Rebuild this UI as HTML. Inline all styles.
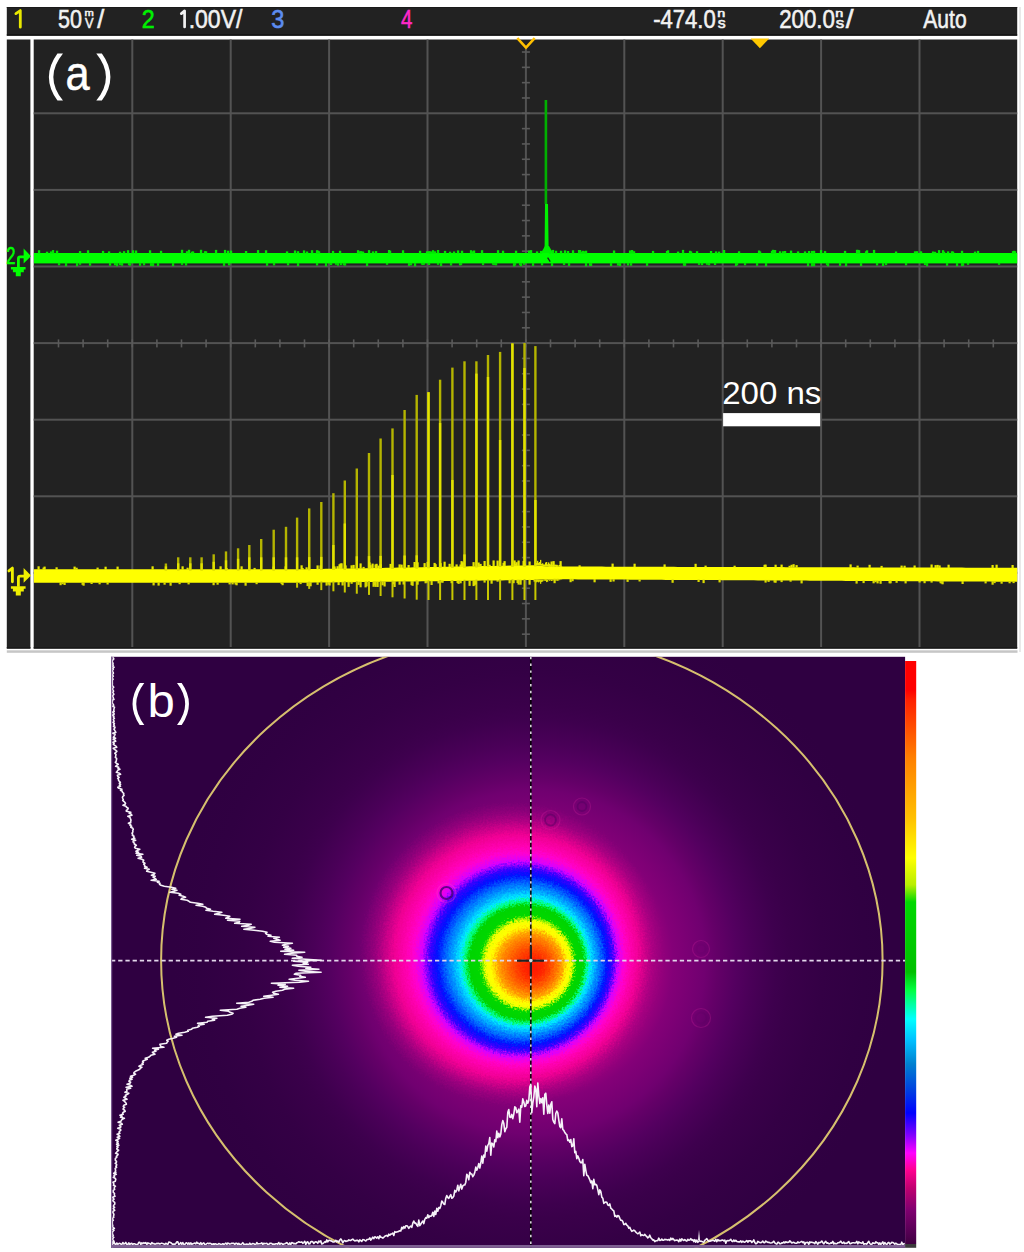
<!DOCTYPE html>
<html><head><meta charset="utf-8"><style>
html,body{margin:0;padding:0;background:#fff;}
body{width:1024px;height:1252px;overflow:hidden;}
svg{display:block;}
</style></head><body>
<svg width="1024" height="1252" viewBox="0 0 1024 1252">
<rect x="6.8" y="7" width="1010.4" height="28.7" fill="#222"/>
<rect x="6.8" y="34.2" width="1010.4" height="1.5" fill="#151515"/>
<rect x="6.8" y="7" width="1010.4" height="1" fill="#1a1a1a"/>
<rect x="6.8" y="39.5" width="23.6" height="609.1" fill="#222"/>
<rect x="33.7" y="39.5" width="983.5" height="609.1" fill="#222"/>
<rect x="33.7" y="647" width="983.5" height="1.6" fill="#1a1a1a"/>
<rect x="6.8" y="647" width="23.6" height="1.6" fill="#1a1a1a"/>
<rect x="6.8" y="650.3" width="1010.7" height="2.5" fill="#c6c6c6"/>
<rect x="1019.2" y="7" width="1.6" height="645" fill="#e4e4e4"/>
<rect x="131.30" y="39.5" width="2" height="607.5" fill="#535353"/><rect x="229.70" y="39.5" width="2" height="607.5" fill="#535353"/><rect x="328.10" y="39.5" width="2" height="607.5" fill="#535353"/><rect x="426.50" y="39.5" width="2" height="607.5" fill="#535353"/><rect x="524.90" y="48.5" width="2" height="598.5" fill="#535353"/><rect x="623.30" y="39.5" width="2" height="607.5" fill="#535353"/><rect x="721.70" y="39.5" width="2" height="607.5" fill="#535353"/><rect x="820.10" y="39.5" width="2" height="607.5" fill="#535353"/><rect x="918.50" y="39.5" width="2" height="607.5" fill="#535353"/><rect x="33.7" y="112.30" width="983.5" height="2" fill="#535353"/><rect x="33.7" y="188.90" width="983.5" height="2" fill="#535353"/><rect x="33.7" y="265.50" width="983.5" height="2" fill="#535353"/><rect x="33.7" y="342.10" width="983.5" height="2" fill="#535353"/><rect x="33.7" y="418.70" width="983.5" height="2" fill="#535353"/><rect x="33.7" y="495.30" width="983.5" height="2" fill="#535353"/><rect x="33.7" y="571.90" width="983.5" height="2" fill="#535353"/><rect x="521.90" y="51.22" width="8" height="1.6" fill="#5a5a5a"/><rect x="521.90" y="66.54" width="8" height="1.6" fill="#5a5a5a"/><rect x="521.90" y="81.86" width="8" height="1.6" fill="#5a5a5a"/><rect x="521.90" y="97.18" width="8" height="1.6" fill="#5a5a5a"/><rect x="521.90" y="112.50" width="8" height="1.6" fill="#5a5a5a"/><rect x="521.90" y="127.82" width="8" height="1.6" fill="#5a5a5a"/><rect x="521.90" y="143.14" width="8" height="1.6" fill="#5a5a5a"/><rect x="521.90" y="158.46" width="8" height="1.6" fill="#5a5a5a"/><rect x="521.90" y="173.78" width="8" height="1.6" fill="#5a5a5a"/><rect x="521.90" y="189.10" width="8" height="1.6" fill="#5a5a5a"/><rect x="521.90" y="204.42" width="8" height="1.6" fill="#5a5a5a"/><rect x="521.90" y="219.74" width="8" height="1.6" fill="#5a5a5a"/><rect x="521.90" y="235.06" width="8" height="1.6" fill="#5a5a5a"/><rect x="521.90" y="250.38" width="8" height="1.6" fill="#5a5a5a"/><rect x="521.90" y="265.70" width="8" height="1.6" fill="#5a5a5a"/><rect x="521.90" y="281.02" width="8" height="1.6" fill="#5a5a5a"/><rect x="521.90" y="296.34" width="8" height="1.6" fill="#5a5a5a"/><rect x="521.90" y="311.66" width="8" height="1.6" fill="#5a5a5a"/><rect x="521.90" y="326.98" width="8" height="1.6" fill="#5a5a5a"/><rect x="521.90" y="342.30" width="8" height="1.6" fill="#5a5a5a"/><rect x="521.90" y="357.62" width="8" height="1.6" fill="#5a5a5a"/><rect x="521.90" y="372.94" width="8" height="1.6" fill="#5a5a5a"/><rect x="521.90" y="388.26" width="8" height="1.6" fill="#5a5a5a"/><rect x="521.90" y="403.58" width="8" height="1.6" fill="#5a5a5a"/><rect x="521.90" y="418.90" width="8" height="1.6" fill="#5a5a5a"/><rect x="521.90" y="434.22" width="8" height="1.6" fill="#5a5a5a"/><rect x="521.90" y="449.54" width="8" height="1.6" fill="#5a5a5a"/><rect x="521.90" y="464.86" width="8" height="1.6" fill="#5a5a5a"/><rect x="521.90" y="480.18" width="8" height="1.6" fill="#5a5a5a"/><rect x="521.90" y="495.50" width="8" height="1.6" fill="#5a5a5a"/><rect x="521.90" y="510.82" width="8" height="1.6" fill="#5a5a5a"/><rect x="521.90" y="526.14" width="8" height="1.6" fill="#5a5a5a"/><rect x="521.90" y="541.46" width="8" height="1.6" fill="#5a5a5a"/><rect x="521.90" y="556.78" width="8" height="1.6" fill="#5a5a5a"/><rect x="521.90" y="572.10" width="8" height="1.6" fill="#5a5a5a"/><rect x="521.90" y="587.42" width="8" height="1.6" fill="#5a5a5a"/><rect x="521.90" y="602.74" width="8" height="1.6" fill="#5a5a5a"/><rect x="521.90" y="618.06" width="8" height="1.6" fill="#5a5a5a"/><rect x="521.90" y="633.38" width="8" height="1.6" fill="#5a5a5a"/><rect x="57.70" y="339.40" width="1.6" height="8" fill="#5a5a5a"/><rect x="82.30" y="339.40" width="1.6" height="8" fill="#5a5a5a"/><rect x="106.90" y="339.40" width="1.6" height="8" fill="#5a5a5a"/><rect x="131.50" y="339.40" width="1.6" height="8" fill="#5a5a5a"/><rect x="156.10" y="339.40" width="1.6" height="8" fill="#5a5a5a"/><rect x="180.70" y="339.40" width="1.6" height="8" fill="#5a5a5a"/><rect x="205.30" y="339.40" width="1.6" height="8" fill="#5a5a5a"/><rect x="229.90" y="339.40" width="1.6" height="8" fill="#5a5a5a"/><rect x="254.50" y="339.40" width="1.6" height="8" fill="#5a5a5a"/><rect x="279.10" y="339.40" width="1.6" height="8" fill="#5a5a5a"/><rect x="303.70" y="339.40" width="1.6" height="8" fill="#5a5a5a"/><rect x="328.30" y="339.40" width="1.6" height="8" fill="#5a5a5a"/><rect x="352.90" y="339.40" width="1.6" height="8" fill="#5a5a5a"/><rect x="377.50" y="339.40" width="1.6" height="8" fill="#5a5a5a"/><rect x="402.10" y="339.40" width="1.6" height="8" fill="#5a5a5a"/><rect x="426.70" y="339.40" width="1.6" height="8" fill="#5a5a5a"/><rect x="451.30" y="339.40" width="1.6" height="8" fill="#5a5a5a"/><rect x="475.90" y="339.40" width="1.6" height="8" fill="#5a5a5a"/><rect x="500.50" y="339.40" width="1.6" height="8" fill="#5a5a5a"/><rect x="525.10" y="339.40" width="1.6" height="8" fill="#5a5a5a"/><rect x="549.70" y="339.40" width="1.6" height="8" fill="#5a5a5a"/><rect x="574.30" y="339.40" width="1.6" height="8" fill="#5a5a5a"/><rect x="598.90" y="339.40" width="1.6" height="8" fill="#5a5a5a"/><rect x="623.50" y="339.40" width="1.6" height="8" fill="#5a5a5a"/><rect x="648.10" y="339.40" width="1.6" height="8" fill="#5a5a5a"/><rect x="672.70" y="339.40" width="1.6" height="8" fill="#5a5a5a"/><rect x="697.30" y="339.40" width="1.6" height="8" fill="#5a5a5a"/><rect x="721.90" y="339.40" width="1.6" height="8" fill="#5a5a5a"/><rect x="746.50" y="339.40" width="1.6" height="8" fill="#5a5a5a"/><rect x="771.10" y="339.40" width="1.6" height="8" fill="#5a5a5a"/><rect x="795.70" y="339.40" width="1.6" height="8" fill="#5a5a5a"/><rect x="820.30" y="339.40" width="1.6" height="8" fill="#5a5a5a"/><rect x="844.90" y="339.40" width="1.6" height="8" fill="#5a5a5a"/><rect x="869.50" y="339.40" width="1.6" height="8" fill="#5a5a5a"/><rect x="894.10" y="339.40" width="1.6" height="8" fill="#5a5a5a"/><rect x="918.70" y="339.40" width="1.6" height="8" fill="#5a5a5a"/><rect x="943.30" y="339.40" width="1.6" height="8" fill="#5a5a5a"/><rect x="967.90" y="339.40" width="1.6" height="8" fill="#5a5a5a"/><rect x="992.50" y="339.40" width="1.6" height="8" fill="#5a5a5a"/>
<path d="M15.9 13.6 L20.3 10.60 L20.3 27.20" fill="none" stroke="#e8e800" stroke-width="2.8" stroke-linecap="round" stroke-linejoin="round"/>
<text transform="translate(57.89,27.90) scale(0.8396,1)" x="0" y="0" font-family='"Liberation Sans", sans-serif' font-size="25.71" fill="#f2f2f2" style="font-kerning:none" stroke="#f2f2f2" stroke-width="0.55">50</text>
<text transform="translate(84.61,16.25) scale(1.1745,1)" x="0" y="0" font-family='"Liberation Sans", sans-serif' font-size="9.48" fill="#f2f2f2" style="font-kerning:none" stroke="#f2f2f2" stroke-width="0.55">m</text>
<text transform="translate(84.99,28.15) scale(0.8780,1)" x="0" y="0" font-family='"Liberation Sans", sans-serif' font-size="14.54" fill="#f2f2f2" style="font-kerning:none" stroke="#f2f2f2" stroke-width="0.55">V</text>
<text transform="translate(97.15,27.90) scale(0.9948,1)" x="0" y="0" font-family='"Liberation Sans", sans-serif' font-size="25.33" fill="#f2f2f2" style="font-kerning:none" stroke="#f2f2f2" stroke-width="0.55">/</text>
<text transform="translate(141.68,28.15) scale(0.8927,1)" x="0" y="0" font-family='"Liberation Sans", sans-serif' font-size="26.07" fill="#00f000" style="font-kerning:none" stroke="#00f000" stroke-width="0.55">2</text>
<path d="M181.3 13.6 L184.6 10.85 L184.6 26.95" fill="none" stroke="#f2f2f2" stroke-width="2.7" stroke-linecap="round" stroke-linejoin="round"/>
<text transform="translate(188.65,27.90) scale(0.9147,1)" x="0" y="0" font-family='"Liberation Sans", sans-serif' font-size="25.19" fill="#f2f2f2" style="font-kerning:none" stroke="#f2f2f2" stroke-width="0.55">.00V/</text>
<text transform="translate(271.35,27.90) scale(0.9190,1)" x="0" y="0" font-family='"Liberation Sans", sans-serif' font-size="25.71" fill="#5c8cf0" style="font-kerning:none" stroke="#5c8cf0" stroke-width="0.55">3</text>
<text transform="translate(400.88,28.15) scale(0.7727,1)" x="0" y="0" font-family='"Liberation Sans", sans-serif' font-size="26.45" fill="#ff28c8" style="font-kerning:none" stroke="#ff28c8" stroke-width="0.55">4</text>
<text transform="translate(653.17,27.90) scale(0.8788,1)" x="0" y="0" font-family='"Liberation Sans", sans-serif' font-size="25.14" fill="#f2f2f2" style="font-kerning:none" stroke="#f2f2f2" stroke-width="0.55">-474.0</text>
<text transform="translate(717.30,17.25) scale(1.4309,1)" x="0" y="0" font-family='"Liberation Sans", sans-serif' font-size="10.04" fill="#f2f2f2" style="font-kerning:none" stroke="#f2f2f2" stroke-width="0.55">n</text>
<text transform="translate(717.81,28.01) scale(1.0674,1)" x="0" y="0" font-family='"Liberation Sans", sans-serif' font-size="14.82" fill="#f2f2f2" style="font-kerning:none" stroke="#f2f2f2" stroke-width="0.55">s</text>
<text transform="translate(779.13,27.90) scale(0.8868,1)" x="0" y="0" font-family='"Liberation Sans", sans-serif' font-size="25.14" fill="#f2f2f2" style="font-kerning:none" stroke="#f2f2f2" stroke-width="0.55">200.0</text>
<text transform="translate(835.30,17.25) scale(1.4309,1)" x="0" y="0" font-family='"Liberation Sans", sans-serif' font-size="10.04" fill="#f2f2f2" style="font-kerning:none" stroke="#f2f2f2" stroke-width="0.55">n</text>
<text transform="translate(835.78,28.01) scale(1.1448,1)" x="0" y="0" font-family='"Liberation Sans", sans-serif' font-size="14.82" fill="#f2f2f2" style="font-kerning:none" stroke="#f2f2f2" stroke-width="0.55">s</text>
<text transform="translate(845.75,27.90) scale(1.1085,1)" x="0" y="0" font-family='"Liberation Sans", sans-serif' font-size="25.33" fill="#f2f2f2" style="font-kerning:none" stroke="#f2f2f2" stroke-width="0.55">/</text>
<text transform="translate(923.21,28.09) scale(0.7962,1)" x="0" y="0" font-family='"Liberation Sans", sans-serif' font-size="26.51" fill="#f2f2f2" style="font-kerning:none" stroke="#f2f2f2" stroke-width="0.55">Auto</text>
<path d="M517.3 38.2 L526 47.6 L534.7 38.2" fill="none" stroke="#ffc000" stroke-width="2.6" stroke-linejoin="miter"/>
<path d="M750.6 38.6 L769.2 38.6 L759.9 48.3 Z" fill="#ffc800"/>
<rect x="33.9" y="253" width="983.3" height="10.4" fill="#00ff00"/><rect x="37.9" y="250.2" width="2.3" height="3.3" fill="#00e800"/><rect x="45.9" y="251.7" width="2.3" height="1.8" fill="#00e800"/><rect x="49.9" y="251.4" width="2.3" height="2.1" fill="#00e800"/><rect x="51.9" y="250.1" width="2.3" height="3.4" fill="#00e800"/><rect x="55.9" y="250.7" width="2.3" height="2.8" fill="#00e800"/><rect x="57.9" y="262.9" width="2.3" height="2.4" fill="#00d800"/><rect x="64.9" y="262.9" width="2.3" height="3.4" fill="#00d800"/><rect x="75.9" y="262.9" width="2.3" height="3.3" fill="#00d800"/><rect x="78.9" y="251.1" width="2.3" height="2.4" fill="#00e800"/><rect x="78.9" y="262.9" width="2.3" height="1.9" fill="#00d800"/><rect x="86.9" y="250.3" width="2.3" height="3.2" fill="#00e800"/><rect x="88.9" y="262.9" width="2.3" height="2.8" fill="#00d800"/><rect x="101.9" y="250.9" width="2.3" height="2.6" fill="#00e800"/><rect x="107.9" y="251.4" width="2.3" height="2.1" fill="#00e800"/><rect x="108.9" y="262.9" width="2.3" height="2.8" fill="#00d800"/><rect x="113.9" y="262.9" width="2.3" height="2.4" fill="#00d800"/><rect x="115.9" y="262.9" width="2.3" height="3.3" fill="#00d800"/><rect x="118.9" y="251.7" width="2.3" height="1.8" fill="#00e800"/><rect x="118.9" y="262.9" width="2.3" height="2.2" fill="#00d800"/><rect x="120.9" y="262.9" width="2.3" height="2.8" fill="#00d800"/><rect x="122.9" y="251.2" width="2.3" height="2.3" fill="#00e800"/><rect x="126.9" y="250.2" width="2.3" height="3.3" fill="#00e800"/><rect x="127.9" y="262.9" width="2.3" height="2.3" fill="#00d800"/><rect x="128.9" y="262.9" width="2.3" height="2.8" fill="#00d800"/><rect x="131.9" y="250.3" width="2.3" height="3.2" fill="#00e800"/><rect x="134.9" y="250.5" width="2.3" height="3.0" fill="#00e800"/><rect x="138.9" y="262.9" width="2.3" height="2.9" fill="#00d800"/><rect x="142.9" y="262.9" width="2.3" height="2.4" fill="#00d800"/><rect x="148.9" y="250.3" width="2.3" height="3.2" fill="#00e800"/><rect x="149.9" y="262.9" width="2.3" height="3.1" fill="#00d800"/><rect x="151.9" y="262.9" width="2.3" height="3.3" fill="#00d800"/><rect x="156.9" y="262.9" width="2.3" height="3.0" fill="#00d800"/><rect x="159.9" y="250.8" width="2.3" height="2.7" fill="#00e800"/><rect x="171.9" y="262.9" width="2.3" height="3.2" fill="#00d800"/><rect x="180.9" y="249.8" width="2.3" height="3.7" fill="#00e800"/><rect x="180.9" y="262.9" width="2.3" height="2.0" fill="#00d800"/><rect x="184.9" y="262.9" width="2.3" height="2.6" fill="#00d800"/><rect x="185.9" y="251.2" width="2.3" height="2.3" fill="#00e800"/><rect x="187.9" y="249.8" width="2.3" height="3.7" fill="#00e800"/><rect x="190.9" y="251.7" width="2.3" height="1.8" fill="#00e800"/><rect x="191.9" y="251.4" width="2.3" height="2.1" fill="#00e800"/><rect x="199.9" y="249.8" width="2.3" height="3.7" fill="#00e800"/><rect x="203.9" y="251.2" width="2.3" height="2.3" fill="#00e800"/><rect x="204.9" y="251.3" width="2.3" height="2.2" fill="#00e800"/><rect x="214.9" y="249.9" width="2.3" height="3.6" fill="#00e800"/><rect x="222.9" y="262.9" width="2.3" height="3.0" fill="#00d800"/><rect x="223.9" y="249.9" width="2.3" height="3.6" fill="#00e800"/><rect x="226.9" y="250.7" width="2.3" height="2.8" fill="#00e800"/><rect x="227.9" y="262.9" width="2.3" height="2.5" fill="#00d800"/><rect x="229.9" y="250.6" width="2.3" height="2.9" fill="#00e800"/><rect x="244.9" y="251.0" width="2.3" height="2.5" fill="#00e800"/><rect x="256.9" y="250.1" width="2.3" height="3.4" fill="#00e800"/><rect x="264.9" y="250.3" width="2.3" height="3.2" fill="#00e800"/><rect x="265.9" y="262.9" width="2.3" height="2.9" fill="#00d800"/><rect x="272.9" y="262.9" width="2.3" height="2.5" fill="#00d800"/><rect x="285.9" y="251.4" width="2.3" height="2.1" fill="#00e800"/><rect x="286.9" y="262.9" width="2.3" height="2.5" fill="#00d800"/><rect x="293.9" y="250.5" width="2.3" height="3.0" fill="#00e800"/><rect x="296.9" y="251.2" width="2.3" height="2.3" fill="#00e800"/><rect x="296.9" y="262.9" width="2.3" height="3.2" fill="#00d800"/><rect x="302.9" y="250.4" width="2.3" height="3.1" fill="#00e800"/><rect x="305.9" y="251.5" width="2.3" height="2.0" fill="#00e800"/><rect x="310.9" y="250.2" width="2.3" height="3.3" fill="#00e800"/><rect x="315.9" y="250.2" width="2.3" height="3.3" fill="#00e800"/><rect x="315.9" y="262.9" width="2.3" height="2.6" fill="#00d800"/><rect x="316.9" y="250.7" width="2.3" height="2.8" fill="#00e800"/><rect x="317.9" y="251.3" width="2.3" height="2.2" fill="#00e800"/><rect x="324.9" y="262.9" width="2.3" height="3.4" fill="#00d800"/><rect x="329.9" y="262.9" width="2.3" height="2.1" fill="#00d800"/><rect x="331.9" y="250.9" width="2.3" height="2.6" fill="#00e800"/><rect x="334.9" y="262.9" width="2.3" height="1.9" fill="#00d800"/><rect x="336.9" y="262.9" width="2.3" height="2.8" fill="#00d800"/><rect x="338.9" y="250.8" width="2.3" height="2.7" fill="#00e800"/><rect x="339.9" y="262.9" width="2.3" height="2.2" fill="#00d800"/><rect x="342.9" y="262.9" width="2.3" height="2.4" fill="#00d800"/><rect x="343.9" y="262.9" width="2.3" height="2.7" fill="#00d800"/><rect x="356.9" y="250.2" width="2.3" height="3.3" fill="#00e800"/><rect x="357.9" y="251.3" width="2.3" height="2.2" fill="#00e800"/><rect x="359.9" y="251.1" width="2.3" height="2.4" fill="#00e800"/><rect x="361.9" y="251.5" width="2.3" height="2.0" fill="#00e800"/><rect x="365.9" y="262.9" width="2.3" height="3.2" fill="#00d800"/><rect x="367.9" y="250.1" width="2.3" height="3.4" fill="#00e800"/><rect x="371.9" y="251.4" width="2.3" height="2.1" fill="#00e800"/><rect x="374.9" y="251.1" width="2.3" height="2.4" fill="#00e800"/><rect x="385.9" y="262.9" width="2.3" height="1.9" fill="#00d800"/><rect x="387.9" y="250.0" width="2.3" height="3.5" fill="#00e800"/><rect x="388.9" y="250.7" width="2.3" height="2.8" fill="#00e800"/><rect x="401.9" y="250.3" width="2.3" height="3.2" fill="#00e800"/><rect x="407.9" y="262.9" width="2.3" height="3.0" fill="#00d800"/><rect x="409.9" y="262.9" width="2.3" height="2.4" fill="#00d800"/><rect x="413.9" y="262.9" width="2.3" height="3.4" fill="#00d800"/><rect x="418.9" y="250.8" width="2.3" height="2.7" fill="#00e800"/><rect x="420.9" y="262.9" width="2.3" height="1.8" fill="#00d800"/><rect x="421.9" y="262.9" width="2.3" height="2.1" fill="#00d800"/><rect x="422.9" y="262.9" width="2.3" height="1.8" fill="#00d800"/><rect x="425.9" y="251.3" width="2.3" height="2.2" fill="#00e800"/><rect x="427.9" y="251.2" width="2.3" height="2.3" fill="#00e800"/><rect x="427.9" y="262.9" width="2.3" height="2.1" fill="#00d800"/><rect x="428.9" y="251.5" width="2.3" height="2.0" fill="#00e800"/><rect x="429.9" y="251.5" width="2.3" height="2.0" fill="#00e800"/><rect x="431.9" y="250.2" width="2.3" height="3.3" fill="#00e800"/><rect x="433.9" y="251.3" width="2.3" height="2.2" fill="#00e800"/><rect x="436.9" y="250.0" width="2.3" height="3.5" fill="#00e800"/><rect x="436.9" y="262.9" width="2.3" height="1.9" fill="#00d800"/><rect x="439.9" y="262.9" width="2.3" height="3.2" fill="#00d800"/><rect x="443.9" y="250.9" width="2.3" height="2.6" fill="#00e800"/><rect x="448.9" y="251.7" width="2.3" height="1.8" fill="#00e800"/><rect x="449.9" y="262.9" width="2.3" height="2.6" fill="#00d800"/><rect x="452.9" y="251.5" width="2.3" height="2.0" fill="#00e800"/><rect x="456.9" y="250.4" width="2.3" height="3.1" fill="#00e800"/><rect x="458.9" y="262.9" width="2.3" height="2.5" fill="#00d800"/><rect x="459.9" y="262.9" width="2.3" height="2.2" fill="#00d800"/><rect x="460.9" y="250.7" width="2.3" height="2.8" fill="#00e800"/><rect x="469.9" y="250.2" width="2.3" height="3.3" fill="#00e800"/><rect x="471.9" y="251.3" width="2.3" height="2.2" fill="#00e800"/><rect x="472.9" y="250.5" width="2.3" height="3.0" fill="#00e800"/><rect x="480.9" y="250.2" width="2.3" height="3.3" fill="#00e800"/><rect x="481.9" y="262.9" width="2.3" height="2.2" fill="#00d800"/><rect x="491.9" y="262.9" width="2.3" height="1.9" fill="#00d800"/><rect x="492.9" y="262.9" width="2.3" height="2.2" fill="#00d800"/><rect x="493.9" y="262.9" width="2.3" height="2.0" fill="#00d800"/><rect x="494.9" y="262.9" width="2.3" height="2.5" fill="#00d800"/><rect x="496.9" y="250.2" width="2.3" height="3.3" fill="#00e800"/><rect x="501.9" y="250.7" width="2.3" height="2.8" fill="#00e800"/><rect x="512.9" y="262.9" width="2.3" height="3.5" fill="#00d800"/><rect x="513.9" y="262.9" width="2.3" height="2.6" fill="#00d800"/><rect x="514.9" y="250.7" width="2.3" height="2.8" fill="#00e800"/><rect x="518.9" y="262.9" width="2.3" height="2.4" fill="#00d800"/><rect x="519.9" y="262.9" width="2.3" height="3.3" fill="#00d800"/><rect x="522.9" y="262.9" width="2.3" height="1.9" fill="#00d800"/><rect x="527.9" y="250.6" width="2.3" height="2.9" fill="#00e800"/><rect x="529.9" y="250.1" width="2.3" height="3.4" fill="#00e800"/><rect x="531.9" y="262.9" width="2.3" height="3.0" fill="#00d800"/><rect x="535.9" y="251.4" width="2.3" height="2.1" fill="#00e800"/><rect x="539.9" y="250.9" width="2.3" height="2.6" fill="#00e800"/><rect x="540.9" y="262.9" width="2.3" height="2.5" fill="#00d800"/><rect x="548.9" y="250.1" width="2.3" height="3.4" fill="#00e800"/><rect x="550.9" y="262.9" width="2.3" height="3.1" fill="#00d800"/><rect x="551.9" y="249.9" width="2.3" height="3.6" fill="#00e800"/><rect x="554.9" y="250.8" width="2.3" height="2.7" fill="#00e800"/><rect x="559.9" y="250.8" width="2.3" height="2.7" fill="#00e800"/><rect x="562.9" y="262.9" width="2.3" height="2.1" fill="#00d800"/><rect x="563.9" y="250.4" width="2.3" height="3.1" fill="#00e800"/><rect x="566.9" y="251.0" width="2.3" height="2.5" fill="#00e800"/><rect x="567.9" y="262.9" width="2.3" height="3.0" fill="#00d800"/><rect x="571.9" y="250.3" width="2.3" height="3.2" fill="#00e800"/><rect x="577.9" y="250.0" width="2.3" height="3.5" fill="#00e800"/><rect x="578.9" y="250.0" width="2.3" height="3.5" fill="#00e800"/><rect x="580.9" y="251.6" width="2.3" height="1.9" fill="#00e800"/><rect x="581.9" y="250.8" width="2.3" height="2.7" fill="#00e800"/><rect x="583.9" y="251.3" width="2.3" height="2.2" fill="#00e800"/><rect x="584.9" y="250.7" width="2.3" height="2.8" fill="#00e800"/><rect x="584.9" y="262.9" width="2.3" height="3.4" fill="#00d800"/><rect x="588.9" y="262.9" width="2.3" height="3.0" fill="#00d800"/><rect x="589.9" y="262.9" width="2.3" height="3.1" fill="#00d800"/><rect x="609.9" y="262.9" width="2.3" height="3.1" fill="#00d800"/><rect x="612.9" y="250.5" width="2.3" height="3.0" fill="#00e800"/><rect x="616.9" y="262.9" width="2.3" height="2.7" fill="#00d800"/><rect x="618.9" y="262.9" width="2.3" height="3.1" fill="#00d800"/><rect x="626.9" y="262.9" width="2.3" height="2.6" fill="#00d800"/><rect x="628.9" y="250.5" width="2.3" height="3.0" fill="#00e800"/><rect x="629.9" y="262.9" width="2.3" height="2.8" fill="#00d800"/><rect x="630.9" y="250.0" width="2.3" height="3.5" fill="#00e800"/><rect x="632.9" y="251.2" width="2.3" height="2.3" fill="#00e800"/><rect x="645.9" y="262.9" width="2.3" height="3.0" fill="#00d800"/><rect x="651.9" y="250.9" width="2.3" height="2.6" fill="#00e800"/><rect x="665.9" y="251.0" width="2.3" height="2.5" fill="#00e800"/><rect x="666.9" y="250.3" width="2.3" height="3.2" fill="#00e800"/><rect x="676.9" y="251.6" width="2.3" height="1.9" fill="#00e800"/><rect x="681.9" y="249.9" width="2.3" height="3.6" fill="#00e800"/><rect x="682.9" y="262.9" width="2.3" height="2.9" fill="#00d800"/><rect x="683.9" y="262.9" width="2.3" height="3.0" fill="#00d800"/><rect x="688.9" y="250.8" width="2.3" height="2.7" fill="#00e800"/><rect x="689.9" y="251.4" width="2.3" height="2.1" fill="#00e800"/><rect x="695.9" y="251.2" width="2.3" height="2.3" fill="#00e800"/><rect x="697.9" y="262.9" width="2.3" height="2.0" fill="#00d800"/><rect x="700.9" y="262.9" width="2.3" height="2.2" fill="#00d800"/><rect x="705.9" y="262.9" width="2.3" height="1.9" fill="#00d800"/><rect x="707.9" y="262.9" width="2.3" height="2.4" fill="#00d800"/><rect x="709.9" y="251.0" width="2.3" height="2.5" fill="#00e800"/><rect x="713.9" y="262.9" width="2.3" height="2.1" fill="#00d800"/><rect x="714.9" y="251.4" width="2.3" height="2.1" fill="#00e800"/><rect x="717.9" y="251.6" width="2.3" height="1.9" fill="#00e800"/><rect x="722.9" y="250.0" width="2.3" height="3.5" fill="#00e800"/><rect x="734.9" y="262.9" width="2.3" height="3.2" fill="#00d800"/><rect x="735.9" y="262.9" width="2.3" height="2.3" fill="#00d800"/><rect x="737.9" y="251.3" width="2.3" height="2.2" fill="#00e800"/><rect x="743.9" y="262.9" width="2.3" height="2.4" fill="#00d800"/><rect x="755.9" y="262.9" width="2.3" height="2.9" fill="#00d800"/><rect x="757.9" y="250.5" width="2.3" height="3.0" fill="#00e800"/><rect x="758.9" y="251.4" width="2.3" height="2.1" fill="#00e800"/><rect x="764.9" y="262.9" width="2.3" height="3.4" fill="#00d800"/><rect x="770.9" y="250.9" width="2.3" height="2.6" fill="#00e800"/><rect x="771.9" y="249.8" width="2.3" height="3.7" fill="#00e800"/><rect x="773.9" y="250.0" width="2.3" height="3.5" fill="#00e800"/><rect x="778.9" y="251.3" width="2.3" height="2.2" fill="#00e800"/><rect x="781.9" y="251.3" width="2.3" height="2.2" fill="#00e800"/><rect x="783.9" y="251.0" width="2.3" height="2.5" fill="#00e800"/><rect x="789.9" y="250.6" width="2.3" height="2.9" fill="#00e800"/><rect x="796.9" y="251.4" width="2.3" height="2.1" fill="#00e800"/><rect x="803.9" y="251.4" width="2.3" height="2.1" fill="#00e800"/><rect x="806.9" y="262.9" width="2.3" height="3.3" fill="#00d800"/><rect x="807.9" y="251.0" width="2.3" height="2.5" fill="#00e800"/><rect x="810.9" y="250.9" width="2.3" height="2.6" fill="#00e800"/><rect x="810.9" y="262.9" width="2.3" height="3.4" fill="#00d800"/><rect x="811.9" y="251.1" width="2.3" height="2.4" fill="#00e800"/><rect x="812.9" y="250.8" width="2.3" height="2.7" fill="#00e800"/><rect x="812.9" y="262.9" width="2.3" height="3.3" fill="#00d800"/><rect x="819.9" y="250.1" width="2.3" height="3.4" fill="#00e800"/><rect x="823.9" y="251.1" width="2.3" height="2.4" fill="#00e800"/><rect x="825.9" y="262.9" width="2.3" height="2.2" fill="#00d800"/><rect x="826.9" y="262.9" width="2.3" height="3.4" fill="#00d800"/><rect x="838.9" y="262.9" width="2.3" height="3.0" fill="#00d800"/><rect x="843.9" y="250.9" width="2.3" height="2.6" fill="#00e800"/><rect x="844.9" y="262.9" width="2.3" height="3.4" fill="#00d800"/><rect x="855.9" y="249.8" width="2.3" height="3.7" fill="#00e800"/><rect x="856.9" y="249.9" width="2.3" height="3.6" fill="#00e800"/><rect x="857.9" y="250.2" width="2.3" height="3.3" fill="#00e800"/><rect x="859.9" y="262.9" width="2.3" height="3.2" fill="#00d800"/><rect x="864.9" y="251.3" width="2.3" height="2.2" fill="#00e800"/><rect x="865.9" y="250.3" width="2.3" height="3.2" fill="#00e800"/><rect x="872.9" y="249.9" width="2.3" height="3.6" fill="#00e800"/><rect x="875.9" y="262.9" width="2.3" height="2.6" fill="#00d800"/><rect x="881.9" y="262.9" width="2.3" height="3.1" fill="#00d800"/><rect x="884.9" y="262.9" width="2.3" height="2.2" fill="#00d800"/><rect x="894.9" y="251.5" width="2.3" height="2.0" fill="#00e800"/><rect x="904.9" y="262.9" width="2.3" height="2.5" fill="#00d800"/><rect x="913.9" y="251.3" width="2.3" height="2.2" fill="#00e800"/><rect x="915.9" y="251.2" width="2.3" height="2.3" fill="#00e800"/><rect x="919.9" y="251.3" width="2.3" height="2.2" fill="#00e800"/><rect x="923.9" y="262.9" width="2.3" height="2.1" fill="#00d800"/><rect x="925.9" y="262.9" width="2.3" height="3.3" fill="#00d800"/><rect x="931.9" y="251.5" width="2.3" height="2.0" fill="#00e800"/><rect x="933.9" y="251.8" width="2.3" height="1.7" fill="#00e800"/><rect x="937.9" y="250.1" width="2.3" height="3.4" fill="#00e800"/><rect x="941.9" y="250.2" width="2.3" height="3.3" fill="#00e800"/><rect x="942.9" y="251.7" width="2.3" height="1.8" fill="#00e800"/><rect x="945.9" y="262.9" width="2.3" height="2.9" fill="#00d800"/><rect x="946.9" y="251.4" width="2.3" height="2.1" fill="#00e800"/><rect x="950.9" y="251.3" width="2.3" height="2.2" fill="#00e800"/><rect x="951.9" y="251.6" width="2.3" height="1.9" fill="#00e800"/><rect x="955.9" y="262.9" width="2.3" height="3.3" fill="#00d800"/><rect x="960.9" y="250.8" width="2.3" height="2.7" fill="#00e800"/><rect x="960.9" y="262.9" width="2.3" height="3.2" fill="#00d800"/><rect x="961.9" y="262.9" width="2.3" height="3.0" fill="#00d800"/><rect x="966.9" y="262.9" width="2.3" height="1.9" fill="#00d800"/><rect x="973.9" y="251.6" width="2.3" height="1.9" fill="#00e800"/><rect x="976.9" y="250.9" width="2.3" height="2.6" fill="#00e800"/><rect x="997.9" y="262.9" width="2.3" height="1.9" fill="#00d800"/><rect x="1011.9" y="251.2" width="2.3" height="2.3" fill="#00e800"/><rect x="1012.9" y="250.8" width="2.3" height="2.7" fill="#00e800"/><rect x="1013.9" y="251.2" width="2.3" height="2.3" fill="#00e800"/><rect x="544.6" y="100" width="2.6" height="104" fill="#00b000"/><path d="M545.0 204 L548.0 204 L548.6 247 L550.2 253 L543.2 253 L544.6 247 Z" fill="#00f000"/><path d="M547.6 257.6 L550.2 261.6" stroke="#1e1e1e" stroke-width="1.3"/><path d="M541 253 L545 246 L549 246 L553 253 Z" fill="#00f000"/>
<path d="M33.9 569.3 L37.9 569.3 L41.9 569.3 L45.9 569.3 L49.9 569.3 L53.9 569.3 L57.9 569.3 L61.9 569.3 L65.9 569.3 L69.9 569.3 L73.9 569.3 L77.9 569.3 L81.9 569.3 L85.9 569.3 L89.9 569.3 L93.9 569.3 L97.9 569.3 L101.9 569.3 L105.9 569.3 L109.9 569.3 L113.9 569.3 L117.9 569.3 L121.9 569.3 L125.9 569.3 L129.9 569.3 L133.9 569.3 L137.9 569.3 L141.9 569.3 L145.9 569.3 L149.9 569.3 L153.9 569.3 L157.9 569.3 L161.9 569.3 L165.9 569.3 L169.9 569.3 L173.9 569.3 L177.9 569.3 L181.9 569.3 L185.9 569.3 L189.9 569.3 L193.9 569.3 L197.9 569.3 L201.9 569.3 L205.9 569.3 L209.9 569.3 L213.9 569.3 L217.9 569.3 L221.9 569.3 L225.9 569.3 L229.9 569.3 L233.9 569.3 L237.9 569.3 L241.9 569.3 L245.9 569.3 L249.9 569.3 L253.9 569.3 L257.9 569.3 L261.9 569.3 L265.9 569.3 L269.9 569.3 L273.9 569.3 L277.9 569.3 L281.9 569.3 L285.9 569.3 L289.9 569.3 L293.9 569.3 L297.9 569.3 L301.9 569.3 L305.9 569.2 L309.9 569.1 L313.9 569.1 L317.9 569.0 L321.9 568.9 L325.9 568.8 L329.9 568.8 L333.9 568.7 L337.9 568.6 L341.9 568.6 L345.9 568.5 L349.9 568.4 L353.9 568.4 L357.9 568.3 L361.9 568.2 L365.9 568.2 L369.9 568.1 L373.9 568.0 L377.9 567.9 L381.9 567.9 L385.9 567.8 L389.9 567.7 L393.9 567.7 L397.9 567.6 L401.9 567.5 L405.9 567.5 L409.9 567.4 L413.9 567.3 L417.9 567.2 L421.9 567.2 L425.9 567.1 L429.9 567.0 L433.9 567.0 L437.9 566.9 L441.9 566.8 L445.9 566.8 L449.9 566.7 L453.9 566.6 L457.9 566.5 L461.9 566.5 L465.9 566.4 L469.9 566.3 L473.9 566.3 L477.9 566.2 L481.9 566.1 L485.9 566.1 L489.9 566.0 L493.9 565.9 L497.9 565.8 L501.9 565.8 L505.9 565.7 L509.9 565.6 L513.9 565.6 L517.9 565.5 L521.9 565.4 L525.9 565.4 L529.9 565.3 L533.9 565.2 L537.9 565.5 L541.9 565.9 L545.9 566.3 L549.9 566.5 L553.9 566.5 L557.9 566.5 L561.9 566.5 L565.9 566.5 L569.9 566.6 L573.9 566.6 L577.9 566.6 L581.9 566.6 L585.9 566.6 L589.9 566.6 L593.9 566.6 L597.9 566.6 L601.9 566.6 L605.9 566.7 L609.9 566.7 L613.9 566.7 L617.9 566.7 L621.9 566.7 L625.9 566.7 L629.9 566.7 L633.9 566.7 L637.9 566.7 L641.9 566.8 L645.9 566.8 L649.9 566.8 L653.9 566.8 L657.9 566.8 L661.9 566.8 L665.9 566.8 L669.9 566.8 L673.9 566.8 L677.9 566.9 L681.9 566.9 L685.9 566.9 L689.9 566.9 L693.9 566.9 L697.9 566.9 L701.9 566.9 L705.9 566.9 L709.9 566.9 L713.9 567.0 L717.9 567.0 L721.9 567.0 L725.9 567.0 L729.9 567.0 L733.9 567.0 L737.9 567.0 L741.9 567.0 L745.9 567.0 L749.9 567.1 L753.9 567.1 L757.9 567.1 L761.9 567.1 L765.9 567.1 L769.9 567.1 L773.9 567.1 L777.9 567.1 L781.9 567.1 L785.9 567.2 L789.9 567.2 L793.9 567.2 L797.9 567.2 L801.9 567.2 L805.9 567.2 L809.9 567.2 L813.9 567.2 L817.9 567.2 L821.9 567.3 L825.9 567.3 L829.9 567.3 L833.9 567.3 L837.9 567.3 L841.9 567.3 L845.9 567.3 L849.9 567.3 L853.9 567.3 L857.9 567.4 L861.9 567.4 L865.9 567.4 L869.9 567.4 L873.9 567.4 L877.9 567.4 L881.9 567.4 L885.9 567.4 L889.9 567.4 L893.9 567.5 L897.9 567.5 L901.9 567.5 L905.9 567.5 L909.9 567.5 L913.9 567.5 L917.9 567.5 L921.9 567.5 L925.9 567.5 L929.9 567.6 L933.9 567.6 L937.9 567.6 L941.9 567.6 L945.9 567.6 L949.9 567.6 L953.9 567.6 L957.9 567.6 L961.9 567.6 L965.9 567.7 L969.9 567.7 L973.9 567.7 L977.9 567.7 L981.9 567.7 L985.9 567.7 L989.9 567.7 L993.9 567.7 L997.9 567.7 L1001.9 567.8 L1005.9 567.8 L1009.9 567.8 L1013.9 567.8 L1017.2 567.8 L1017.2 581.8 L1013.9 581.8 L1009.9 581.8 L1005.9 581.7 L1001.9 581.7 L997.9 581.7 L993.9 581.7 L989.9 581.6 L985.9 581.6 L981.9 581.6 L977.9 581.6 L973.9 581.6 L969.9 581.5 L965.9 581.5 L961.9 581.5 L957.9 581.5 L953.9 581.5 L949.9 581.4 L945.9 581.4 L941.9 581.4 L937.9 581.4 L933.9 581.3 L929.9 581.3 L925.9 581.3 L921.9 581.3 L917.9 581.3 L913.9 581.2 L909.9 581.2 L905.9 581.2 L901.9 581.2 L897.9 581.1 L893.9 581.1 L889.9 581.1 L885.9 581.1 L881.9 581.1 L877.9 581.0 L873.9 581.0 L869.9 581.0 L865.9 581.0 L861.9 580.9 L857.9 580.9 L853.9 580.9 L849.9 580.9 L845.9 580.9 L841.9 580.8 L837.9 580.8 L833.9 580.8 L829.9 580.8 L825.9 580.7 L821.9 580.7 L817.9 580.7 L813.9 580.7 L809.9 580.7 L805.9 580.6 L801.9 580.6 L797.9 580.6 L793.9 580.6 L789.9 580.5 L785.9 580.5 L781.9 580.5 L777.9 580.5 L773.9 580.5 L769.9 580.4 L765.9 580.4 L761.9 580.4 L757.9 580.4 L753.9 580.3 L749.9 580.3 L745.9 580.3 L741.9 580.3 L737.9 580.3 L733.9 580.2 L729.9 580.2 L725.9 580.2 L721.9 580.2 L717.9 580.1 L713.9 580.1 L709.9 580.1 L705.9 580.1 L701.9 580.1 L697.9 580.0 L693.9 580.0 L689.9 580.0 L685.9 580.0 L681.9 579.9 L677.9 579.9 L673.9 579.9 L669.9 579.9 L665.9 579.9 L661.9 579.8 L657.9 579.8 L653.9 579.8 L649.9 579.8 L645.9 579.7 L641.9 579.7 L637.9 579.7 L633.9 579.7 L629.9 579.7 L625.9 579.6 L621.9 579.6 L617.9 579.6 L613.9 579.6 L609.9 579.5 L605.9 579.5 L601.9 579.5 L597.9 579.5 L593.9 579.5 L589.9 579.4 L585.9 579.4 L581.9 579.4 L577.9 579.4 L573.9 579.3 L569.9 579.3 L565.9 579.3 L561.9 579.3 L557.9 579.3 L553.9 579.2 L549.9 579.2 L545.9 579.3 L541.9 579.6 L537.9 579.8 L533.9 580.0 L529.9 580.1 L525.9 580.1 L521.9 580.2 L517.9 580.2 L513.9 580.3 L509.9 580.3 L505.9 580.3 L501.9 580.4 L497.9 580.4 L493.9 580.5 L489.9 580.5 L485.9 580.6 L481.9 580.6 L477.9 580.7 L473.9 580.7 L469.9 580.8 L465.9 580.8 L461.9 580.9 L457.9 580.9 L453.9 581.0 L449.9 581.0 L445.9 581.1 L441.9 581.1 L437.9 581.2 L433.9 581.2 L429.9 581.3 L425.9 581.3 L421.9 581.3 L417.9 581.4 L413.9 581.4 L409.9 581.5 L405.9 581.5 L401.9 581.6 L397.9 581.6 L393.9 581.7 L389.9 581.7 L385.9 581.8 L381.9 581.8 L377.9 581.9 L373.9 581.9 L369.9 582.0 L365.9 582.0 L361.9 582.1 L357.9 582.1 L353.9 582.2 L349.9 582.2 L345.9 582.3 L341.9 582.3 L337.9 582.3 L333.9 582.4 L329.9 582.4 L325.9 582.5 L321.9 582.5 L317.9 582.6 L313.9 582.6 L309.9 582.7 L305.9 582.7 L301.9 582.8 L297.9 582.8 L293.9 582.8 L289.9 582.8 L285.9 582.8 L281.9 582.8 L277.9 582.8 L273.9 582.8 L269.9 582.8 L265.9 582.8 L261.9 582.8 L257.9 582.8 L253.9 582.8 L249.9 582.8 L245.9 582.8 L241.9 582.8 L237.9 582.8 L233.9 582.8 L229.9 582.8 L225.9 582.8 L221.9 582.8 L217.9 582.8 L213.9 582.8 L209.9 582.8 L205.9 582.8 L201.9 582.8 L197.9 582.8 L193.9 582.8 L189.9 582.8 L185.9 582.8 L181.9 582.8 L177.9 582.8 L173.9 582.8 L169.9 582.8 L165.9 582.8 L161.9 582.8 L157.9 582.8 L153.9 582.8 L149.9 582.8 L145.9 582.8 L141.9 582.8 L137.9 582.8 L133.9 582.8 L129.9 582.8 L125.9 582.8 L121.9 582.8 L117.9 582.8 L113.9 582.8 L109.9 582.8 L105.9 582.8 L101.9 582.8 L97.9 582.8 L93.9 582.8 L89.9 582.8 L85.9 582.8 L81.9 582.8 L77.9 582.8 L73.9 582.8 L69.9 582.8 L65.9 582.8 L61.9 582.8 L57.9 582.8 L53.9 582.8 L49.9 582.8 L45.9 582.8 L41.9 582.8 L37.9 582.8 L33.9 582.8 Z" fill="#ffff00"/><rect x="164.7" y="563.5" width="2.4" height="6.8" fill="#b4b400"/><rect x="164.7" y="566.4" width="2.4" height="3.9" fill="#e2e200"/><rect x="177.0" y="557.3" width="2.4" height="13.0" fill="#b4b400"/><rect x="177.0" y="563.3" width="2.4" height="7.0" fill="#e2e200"/><rect x="189.1" y="557.3" width="2.4" height="13.0" fill="#b4b400"/><rect x="189.1" y="563.3" width="2.4" height="7.0" fill="#e2e200"/><rect x="200.4" y="557.3" width="2.4" height="13.0" fill="#b4b400"/><rect x="200.4" y="563.3" width="2.4" height="7.0" fill="#e2e200"/><rect x="212.5" y="554.3" width="2.4" height="16.0" fill="#b4b400"/><rect x="212.5" y="561.8" width="2.4" height="8.5" fill="#e2e200"/><rect x="224.8" y="551.4" width="2.4" height="18.9" fill="#b4b400"/><rect x="224.8" y="560.3" width="2.4" height="10.0" fill="#e2e200"/><rect x="236.9" y="548.3" width="2.4" height="22.0" fill="#b4b400"/><rect x="236.9" y="558.8" width="2.4" height="11.5" fill="#e2e200"/><rect x="248.1" y="545.0" width="2.4" height="25.3" fill="#b4b400"/><rect x="248.1" y="557.3" width="2.4" height="13.0" fill="#e2e200"/><rect x="260.0" y="539.0" width="2.4" height="31.3" fill="#b4b400"/><rect x="260.0" y="557.3" width="2.4" height="13.0" fill="#e2e200"/><rect x="272.5" y="529.7" width="2.4" height="40.6" fill="#b4b400"/><rect x="272.5" y="557.3" width="2.4" height="13.0" fill="#e2e200"/><rect x="284.8" y="526.8" width="2.4" height="43.5" fill="#b4b400"/><rect x="284.8" y="557.3" width="2.4" height="13.0" fill="#e2e200"/><rect x="295.9" y="517.6" width="2.4" height="52.7" fill="#b4b400"/><rect x="295.9" y="557.3" width="2.4" height="13.0" fill="#e2e200"/><rect x="296.1" y="581.8" width="2" height="5.9" fill="#c8c800"/><rect x="308.0" y="508.4" width="2.4" height="61.7" fill="#b4b400"/><rect x="308.0" y="557.1" width="2.4" height="13.0" fill="#e2e200"/><rect x="308.2" y="581.7" width="2" height="7.2" fill="#c8c800"/><rect x="320.1" y="502.0" width="2.4" height="67.9" fill="#b4b400"/><rect x="320.1" y="556.9" width="2.4" height="13.0" fill="#e2e200"/><rect x="320.3" y="581.5" width="2" height="8.6" fill="#c8c800"/><rect x="332.2" y="493.2" width="2.4" height="76.5" fill="#b4b400"/><rect x="332.2" y="545.0" width="2.4" height="24.7" fill="#e2e200"/><rect x="332.4" y="581.4" width="2" height="9.9" fill="#c8c800"/><rect x="343.6" y="480.5" width="2.4" height="89.0" fill="#b4b400"/><rect x="343.6" y="523.5" width="2.4" height="46.0" fill="#e2e200"/><rect x="343.8" y="581.3" width="2" height="11.2" fill="#c8c800"/><rect x="355.6" y="468.5" width="2.4" height="100.8" fill="#b4b400"/><rect x="355.6" y="556.3" width="2.4" height="13.0" fill="#e2e200"/><rect x="355.8" y="581.1" width="2" height="12.6" fill="#c8c800"/><rect x="367.8" y="453.0" width="2.4" height="116.1" fill="#b4b400"/><rect x="367.8" y="556.1" width="2.4" height="13.0" fill="#e2e200"/><rect x="368.0" y="581.0" width="2" height="13.9" fill="#c8c800"/><rect x="379.4" y="438.5" width="2.4" height="130.4" fill="#b4b400"/><rect x="379.4" y="555.9" width="2.4" height="13.0" fill="#e2e200"/><rect x="379.6" y="580.8" width="2" height="15.2" fill="#c8c800"/><rect x="391.3" y="428.4" width="2.4" height="140.3" fill="#b4b400"/><rect x="391.3" y="475.0" width="2.4" height="93.7" fill="#e2e200"/><rect x="391.5" y="580.7" width="2" height="16.6" fill="#c8c800"/><rect x="403.4" y="410.0" width="2.4" height="158.5" fill="#b4b400"/><rect x="403.4" y="555.5" width="2.4" height="13.0" fill="#e2e200"/><rect x="403.6" y="580.6" width="2" height="17.9" fill="#c8c800"/><rect x="415.5" y="394.9" width="2.4" height="173.4" fill="#b4b400"/><rect x="415.5" y="555.3" width="2.4" height="13.0" fill="#e2e200"/><rect x="415.7" y="580.4" width="2" height="19.3" fill="#c8c800"/><rect x="427.3" y="392.2" width="2.4" height="175.9" fill="#b4b400"/><rect x="427.3" y="392.2" width="2.4" height="175.9" fill="#e2e200"/><rect x="427.5" y="580.3" width="2" height="19.7" fill="#c8c800"/><rect x="438.9" y="379.7" width="2.4" height="188.2" fill="#b4b400"/><rect x="438.9" y="423.0" width="2.4" height="144.9" fill="#e2e200"/><rect x="439.1" y="580.1" width="2" height="19.9" fill="#c8c800"/><rect x="451.2" y="367.6" width="2.4" height="200.0" fill="#b4b400"/><rect x="451.2" y="480.0" width="2.4" height="87.6" fill="#e2e200"/><rect x="451.4" y="580.0" width="2" height="20.0" fill="#c8c800"/><rect x="463.3" y="361.3" width="2.4" height="206.1" fill="#b4b400"/><rect x="463.3" y="554.4" width="2.4" height="13.0" fill="#e2e200"/><rect x="463.5" y="579.8" width="2" height="20.2" fill="#c8c800"/><rect x="475.2" y="361.3" width="2.4" height="205.9" fill="#b4b400"/><rect x="475.2" y="373.6" width="2.4" height="193.6" fill="#e2e200"/><rect x="475.4" y="579.7" width="2" height="20.3" fill="#c8c800"/><rect x="486.8" y="355.0" width="2.4" height="212.0" fill="#b4b400"/><rect x="486.8" y="377.0" width="2.4" height="190.0" fill="#e2e200"/><rect x="487.0" y="579.6" width="2" height="20.4" fill="#c8c800"/><rect x="498.9" y="351.9" width="2.4" height="214.9" fill="#b4b400"/><rect x="498.9" y="440.0" width="2.4" height="126.8" fill="#e2e200"/><rect x="499.1" y="579.4" width="2" height="20.6" fill="#c8c800"/><rect x="511.2" y="343.4" width="2.4" height="223.2" fill="#b4b400"/><rect x="511.2" y="343.4" width="2.4" height="223.2" fill="#e2e200"/><rect x="511.4" y="579.3" width="2" height="20.7" fill="#c8c800"/><rect x="523.3" y="343.0" width="2.4" height="223.4" fill="#b4b400"/><rect x="523.3" y="368.0" width="2.4" height="198.4" fill="#e2e200"/><rect x="523.5" y="579.1" width="2" height="20.9" fill="#c8c800"/><rect x="534.2" y="346.1" width="2.4" height="220.1" fill="#b4b400"/><rect x="534.2" y="500.0" width="2.4" height="66.2" fill="#e2e200"/><rect x="534.4" y="579.0" width="2" height="21.0" fill="#c8c800"/><rect x="37.5" y="566.3" width="2.2" height="3.5" fill="#e8e800"/><rect x="42.5" y="567.6" width="2.2" height="2.2" fill="#e8e800"/><rect x="43.5" y="566.6" width="2.2" height="3.2" fill="#e8e800"/><rect x="55.5" y="567.3" width="2.2" height="2.5" fill="#e8e800"/><rect x="59.5" y="582.3" width="2.2" height="2.9" fill="#dcdc00"/><rect x="61.5" y="582.3" width="2.2" height="1.9" fill="#dcdc00"/><rect x="63.5" y="582.3" width="2.2" height="2.7" fill="#dcdc00"/><rect x="73.5" y="566.6" width="2.2" height="3.2" fill="#e8e800"/><rect x="75.5" y="567.7" width="2.2" height="2.1" fill="#e8e800"/><rect x="81.5" y="582.3" width="2.2" height="2.5" fill="#dcdc00"/><rect x="82.5" y="582.3" width="2.2" height="3.4" fill="#dcdc00"/><rect x="90.5" y="582.3" width="2.2" height="1.7" fill="#dcdc00"/><rect x="96.5" y="567.6" width="2.2" height="2.2" fill="#e8e800"/><rect x="98.5" y="582.3" width="2.2" height="2.0" fill="#dcdc00"/><rect x="104.5" y="566.7" width="2.2" height="3.1" fill="#e8e800"/><rect x="106.5" y="582.3" width="2.2" height="2.2" fill="#dcdc00"/><rect x="116.5" y="566.6" width="2.2" height="3.2" fill="#e8e800"/><rect x="151.5" y="566.3" width="2.2" height="3.5" fill="#e8e800"/><rect x="152.5" y="582.3" width="2.2" height="3.1" fill="#dcdc00"/><rect x="157.5" y="582.3" width="2.2" height="3.3" fill="#dcdc00"/><rect x="163.5" y="582.3" width="2.2" height="2.4" fill="#dcdc00"/><rect x="169.5" y="582.3" width="2.2" height="3.4" fill="#dcdc00"/><rect x="178.5" y="582.3" width="2.2" height="1.9" fill="#dcdc00"/><rect x="181.5" y="566.3" width="2.2" height="3.5" fill="#e8e800"/><rect x="186.5" y="567.7" width="2.2" height="2.1" fill="#e8e800"/><rect x="187.5" y="582.3" width="2.2" height="2.1" fill="#dcdc00"/><rect x="212.5" y="582.3" width="2.2" height="2.9" fill="#dcdc00"/><rect x="216.5" y="582.3" width="2.2" height="2.4" fill="#dcdc00"/><rect x="219.5" y="566.3" width="2.2" height="3.5" fill="#e8e800"/><rect x="225.5" y="568.0" width="2.2" height="1.8" fill="#e8e800"/><rect x="228.5" y="582.3" width="2.2" height="2.1" fill="#dcdc00"/><rect x="231.5" y="582.3" width="2.2" height="2.1" fill="#dcdc00"/><rect x="234.5" y="582.3" width="2.2" height="2.2" fill="#dcdc00"/><rect x="235.5" y="582.3" width="2.2" height="3.0" fill="#dcdc00"/><rect x="240.5" y="566.3" width="2.2" height="3.5" fill="#e8e800"/><rect x="244.5" y="582.3" width="2.2" height="3.4" fill="#dcdc00"/><rect x="253.5" y="567.9" width="2.2" height="1.9" fill="#e8e800"/><rect x="255.5" y="582.3" width="2.2" height="1.9" fill="#dcdc00"/><rect x="272.5" y="566.5" width="2.2" height="3.3" fill="#e8e800"/><rect x="280.5" y="582.3" width="2.2" height="1.7" fill="#dcdc00"/><rect x="281.5" y="582.3" width="2.2" height="2.9" fill="#dcdc00"/><rect x="284.5" y="566.4" width="2.2" height="3.4" fill="#e8e800"/><rect x="299.5" y="582.3" width="2.2" height="1.8" fill="#dcdc00"/><rect x="300.5" y="565.3" width="2.2" height="4.4" fill="#e8e800"/><rect x="301.5" y="568.0" width="2.2" height="1.8" fill="#e8e800"/><rect x="305.5" y="567.3" width="2.2" height="2.4" fill="#e8e800"/><rect x="306.5" y="582.2" width="2.2" height="3.9" fill="#dcdc00"/><rect x="309.5" y="582.2" width="2.2" height="4.1" fill="#dcdc00"/><rect x="316.5" y="565.4" width="2.2" height="4.1" fill="#e8e800"/><rect x="316.5" y="582.1" width="2.2" height="2.7" fill="#dcdc00"/><rect x="319.5" y="565.4" width="2.2" height="4.0" fill="#e8e800"/><rect x="325.5" y="582.0" width="2.2" height="3.6" fill="#dcdc00"/><rect x="327.5" y="582.0" width="2.2" height="2.6" fill="#dcdc00"/><rect x="328.5" y="582.0" width="2.2" height="3.5" fill="#dcdc00"/><rect x="332.5" y="566.6" width="2.2" height="2.7" fill="#e8e800"/><rect x="333.5" y="566.4" width="2.2" height="2.8" fill="#e8e800"/><rect x="336.5" y="566.2" width="2.2" height="2.9" fill="#e8e800"/><rect x="337.5" y="581.9" width="2.2" height="3.2" fill="#dcdc00"/><rect x="338.5" y="564.3" width="2.2" height="4.8" fill="#e8e800"/><rect x="339.5" y="563.5" width="2.2" height="5.6" fill="#e8e800"/><rect x="340.5" y="563.3" width="2.2" height="5.8" fill="#e8e800"/><rect x="341.5" y="581.8" width="2.2" height="3.7" fill="#dcdc00"/><rect x="344.5" y="565.4" width="2.2" height="3.6" fill="#e8e800"/><rect x="347.5" y="581.7" width="2.2" height="5.2" fill="#dcdc00"/><rect x="350.5" y="565.3" width="2.2" height="3.6" fill="#e8e800"/><rect x="350.5" y="581.7" width="2.2" height="2.1" fill="#dcdc00"/><rect x="352.5" y="564.9" width="2.2" height="4.0" fill="#e8e800"/><rect x="357.5" y="581.6" width="2.2" height="3.3" fill="#dcdc00"/><rect x="359.5" y="563.4" width="2.2" height="5.4" fill="#e8e800"/><rect x="359.5" y="581.6" width="2.2" height="5.7" fill="#dcdc00"/><rect x="362.5" y="566.9" width="2.2" height="1.8" fill="#e8e800"/><rect x="364.5" y="581.5" width="2.2" height="5.9" fill="#dcdc00"/><rect x="365.5" y="581.5" width="2.2" height="4.9" fill="#dcdc00"/><rect x="368.5" y="562.4" width="2.2" height="6.2" fill="#e8e800"/><rect x="369.5" y="565.2" width="2.2" height="3.4" fill="#e8e800"/><rect x="371.5" y="563.6" width="2.2" height="4.9" fill="#e8e800"/><rect x="372.5" y="581.4" width="2.2" height="5.4" fill="#dcdc00"/><rect x="373.5" y="581.4" width="2.2" height="3.8" fill="#dcdc00"/><rect x="374.5" y="564.4" width="2.2" height="4.1" fill="#e8e800"/><rect x="374.5" y="581.4" width="2.2" height="5.5" fill="#dcdc00"/><rect x="375.5" y="563.8" width="2.2" height="4.7" fill="#e8e800"/><rect x="376.5" y="581.4" width="2.2" height="5.6" fill="#dcdc00"/><rect x="377.5" y="565.6" width="2.2" height="2.8" fill="#e8e800"/><rect x="379.5" y="564.1" width="2.2" height="4.3" fill="#e8e800"/><rect x="381.5" y="581.3" width="2.2" height="4.0" fill="#dcdc00"/><rect x="383.5" y="581.3" width="2.2" height="5.2" fill="#dcdc00"/><rect x="389.5" y="563.9" width="2.2" height="4.4" fill="#e8e800"/><rect x="392.5" y="581.2" width="2.2" height="3.0" fill="#dcdc00"/><rect x="393.5" y="581.2" width="2.2" height="5.8" fill="#dcdc00"/><rect x="398.5" y="564.4" width="2.2" height="3.7" fill="#e8e800"/><rect x="398.5" y="581.1" width="2.2" height="3.6" fill="#dcdc00"/><rect x="400.5" y="564.6" width="2.2" height="3.5" fill="#e8e800"/><rect x="402.5" y="581.1" width="2.2" height="3.4" fill="#dcdc00"/><rect x="407.5" y="565.0" width="2.2" height="2.9" fill="#e8e800"/><rect x="410.5" y="581.0" width="2.2" height="4.1" fill="#dcdc00"/><rect x="411.5" y="581.0" width="2.2" height="4.8" fill="#dcdc00"/><rect x="413.5" y="562.0" width="2.2" height="5.8" fill="#e8e800"/><rect x="416.5" y="562.3" width="2.2" height="5.5" fill="#e8e800"/><rect x="416.5" y="580.9" width="2.2" height="3.8" fill="#dcdc00"/><rect x="423.5" y="563.1" width="2.2" height="4.5" fill="#e8e800"/><rect x="424.5" y="580.8" width="2.2" height="2.5" fill="#dcdc00"/><rect x="425.5" y="580.8" width="2.2" height="1.9" fill="#dcdc00"/><rect x="426.5" y="561.9" width="2.2" height="5.7" fill="#e8e800"/><rect x="430.5" y="580.7" width="2.2" height="4.3" fill="#dcdc00"/><rect x="433.5" y="562.9" width="2.2" height="4.5" fill="#e8e800"/><rect x="434.5" y="564.2" width="2.2" height="3.3" fill="#e8e800"/><rect x="437.5" y="580.7" width="2.2" height="2.7" fill="#dcdc00"/><rect x="439.5" y="563.1" width="2.2" height="4.3" fill="#e8e800"/><rect x="440.5" y="580.6" width="2.2" height="1.9" fill="#dcdc00"/><rect x="441.5" y="580.6" width="2.2" height="2.1" fill="#dcdc00"/><rect x="443.5" y="561.7" width="2.2" height="5.6" fill="#e8e800"/><rect x="448.5" y="563.8" width="2.2" height="3.4" fill="#e8e800"/><rect x="450.5" y="580.5" width="2.2" height="2.7" fill="#dcdc00"/><rect x="455.5" y="564.4" width="2.2" height="2.7" fill="#e8e800"/><rect x="456.5" y="580.4" width="2.2" height="2.6" fill="#dcdc00"/><rect x="457.5" y="580.4" width="2.2" height="3.5" fill="#dcdc00"/><rect x="459.5" y="564.5" width="2.2" height="2.6" fill="#e8e800"/><rect x="459.5" y="580.4" width="2.2" height="2.9" fill="#dcdc00"/><rect x="460.5" y="561.1" width="2.2" height="5.9" fill="#e8e800"/><rect x="461.5" y="562.3" width="2.2" height="4.7" fill="#e8e800"/><rect x="468.5" y="580.3" width="2.2" height="5.6" fill="#dcdc00"/><rect x="472.5" y="562.1" width="2.2" height="4.7" fill="#e8e800"/><rect x="472.5" y="580.2" width="2.2" height="5.9" fill="#dcdc00"/><rect x="473.5" y="580.2" width="2.2" height="5.0" fill="#dcdc00"/><rect x="474.5" y="580.2" width="2.2" height="4.1" fill="#dcdc00"/><rect x="477.5" y="562.5" width="2.2" height="4.2" fill="#e8e800"/><rect x="478.5" y="564.4" width="2.2" height="2.3" fill="#e8e800"/><rect x="479.5" y="563.9" width="2.2" height="2.8" fill="#e8e800"/><rect x="483.5" y="561.0" width="2.2" height="5.6" fill="#e8e800"/><rect x="483.5" y="580.1" width="2.2" height="2.5" fill="#dcdc00"/><rect x="488.5" y="564.8" width="2.2" height="1.8" fill="#e8e800"/><rect x="490.5" y="580.0" width="2.2" height="3.7" fill="#dcdc00"/><rect x="492.5" y="560.4" width="2.2" height="6.1" fill="#e8e800"/><rect x="496.5" y="560.6" width="2.2" height="5.8" fill="#e8e800"/><rect x="496.5" y="580.0" width="2.2" height="1.7" fill="#dcdc00"/><rect x="502.5" y="562.8" width="2.2" height="3.5" fill="#e8e800"/><rect x="503.5" y="561.1" width="2.2" height="5.2" fill="#e8e800"/><rect x="508.5" y="579.8" width="2.2" height="3.5" fill="#dcdc00"/><rect x="512.5" y="579.8" width="2.2" height="3.4" fill="#dcdc00"/><rect x="513.5" y="560.4" width="2.2" height="5.7" fill="#e8e800"/><rect x="514.5" y="563.9" width="2.2" height="2.1" fill="#e8e800"/><rect x="515.5" y="562.2" width="2.2" height="3.9" fill="#e8e800"/><rect x="516.5" y="579.7" width="2.2" height="3.3" fill="#dcdc00"/><rect x="517.5" y="560.5" width="2.2" height="5.5" fill="#e8e800"/><rect x="517.5" y="579.7" width="2.2" height="4.9" fill="#dcdc00"/><rect x="519.5" y="579.7" width="2.2" height="5.0" fill="#dcdc00"/><rect x="522.5" y="560.9" width="2.2" height="5.0" fill="#e8e800"/><rect x="523.5" y="563.7" width="2.2" height="2.2" fill="#e8e800"/><rect x="528.5" y="561.5" width="2.2" height="4.3" fill="#e8e800"/><rect x="528.5" y="579.6" width="2.2" height="5.1" fill="#dcdc00"/><rect x="533.5" y="579.5" width="2.2" height="2.1" fill="#dcdc00"/><rect x="544.5" y="578.9" width="2.2" height="1.9" fill="#dcdc00"/><rect x="548.5" y="565.3" width="2.2" height="1.7" fill="#e8e800"/><rect x="550.5" y="561.5" width="2.2" height="5.5" fill="#e8e800"/><rect x="552.5" y="561.1" width="2.2" height="6.0" fill="#e8e800"/><rect x="553.5" y="578.7" width="2.2" height="4.5" fill="#dcdc00"/><rect x="555.5" y="564.8" width="2.2" height="2.3" fill="#e8e800"/><rect x="556.5" y="578.7" width="2.2" height="2.1" fill="#dcdc00"/><rect x="559.5" y="561.1" width="2.2" height="5.9" fill="#e8e800"/><rect x="569.5" y="578.8" width="2.2" height="3.4" fill="#dcdc00"/><rect x="571.5" y="578.8" width="2.2" height="2.4" fill="#dcdc00"/><rect x="578.5" y="565.3" width="2.2" height="1.8" fill="#e8e800"/><rect x="593.5" y="579.0" width="2.2" height="3.3" fill="#dcdc00"/><rect x="609.5" y="579.0" width="2.2" height="2.9" fill="#dcdc00"/><rect x="611.5" y="563.6" width="2.2" height="3.6" fill="#e8e800"/><rect x="612.5" y="579.1" width="2.2" height="2.4" fill="#dcdc00"/><rect x="626.5" y="579.1" width="2.2" height="2.8" fill="#dcdc00"/><rect x="633.5" y="563.7" width="2.2" height="3.6" fill="#e8e800"/><rect x="638.5" y="579.2" width="2.2" height="2.3" fill="#dcdc00"/><rect x="663.5" y="564.4" width="2.2" height="2.9" fill="#e8e800"/><rect x="671.5" y="579.4" width="2.2" height="3.4" fill="#dcdc00"/><rect x="694.5" y="563.8" width="2.2" height="3.6" fill="#e8e800"/><rect x="697.5" y="579.5" width="2.2" height="2.5" fill="#dcdc00"/><rect x="702.5" y="579.6" width="2.2" height="3.5" fill="#dcdc00"/><rect x="704.5" y="565.6" width="2.2" height="1.8" fill="#e8e800"/><rect x="718.5" y="579.6" width="2.2" height="2.8" fill="#dcdc00"/><rect x="733.5" y="565.7" width="2.2" height="1.8" fill="#e8e800"/><rect x="763.5" y="564.8" width="2.2" height="2.8" fill="#e8e800"/><rect x="764.5" y="564.6" width="2.2" height="3.0" fill="#e8e800"/><rect x="764.5" y="579.9" width="2.2" height="2.7" fill="#dcdc00"/><rect x="767.5" y="579.9" width="2.2" height="2.0" fill="#dcdc00"/><rect x="773.5" y="580.0" width="2.2" height="2.5" fill="#dcdc00"/><rect x="774.5" y="564.7" width="2.2" height="2.9" fill="#e8e800"/><rect x="774.5" y="580.0" width="2.2" height="2.7" fill="#dcdc00"/><rect x="780.5" y="564.6" width="2.2" height="3.0" fill="#e8e800"/><rect x="780.5" y="580.0" width="2.2" height="2.1" fill="#dcdc00"/><rect x="788.5" y="565.8" width="2.2" height="1.8" fill="#e8e800"/><rect x="789.5" y="580.0" width="2.2" height="1.7" fill="#dcdc00"/><rect x="790.5" y="564.8" width="2.2" height="2.9" fill="#e8e800"/><rect x="792.5" y="564.2" width="2.2" height="3.4" fill="#e8e800"/><rect x="795.5" y="565.1" width="2.2" height="2.6" fill="#e8e800"/><rect x="800.5" y="580.1" width="2.2" height="3.3" fill="#dcdc00"/><rect x="849.5" y="564.4" width="2.2" height="3.5" fill="#e8e800"/><rect x="855.5" y="580.4" width="2.2" height="3.2" fill="#dcdc00"/><rect x="856.5" y="565.6" width="2.2" height="2.2" fill="#e8e800"/><rect x="862.5" y="580.4" width="2.2" height="2.7" fill="#dcdc00"/><rect x="868.5" y="564.8" width="2.2" height="3.1" fill="#e8e800"/><rect x="872.5" y="580.5" width="2.2" height="2.8" fill="#dcdc00"/><rect x="874.5" y="580.5" width="2.2" height="1.7" fill="#dcdc00"/><rect x="876.5" y="580.5" width="2.2" height="2.9" fill="#dcdc00"/><rect x="879.5" y="580.5" width="2.2" height="3.3" fill="#dcdc00"/><rect x="880.5" y="565.9" width="2.2" height="2.0" fill="#e8e800"/><rect x="888.5" y="580.6" width="2.2" height="2.7" fill="#dcdc00"/><rect x="889.5" y="580.6" width="2.2" height="2.7" fill="#dcdc00"/><rect x="895.5" y="580.6" width="2.2" height="2.2" fill="#dcdc00"/><rect x="900.5" y="565.6" width="2.2" height="2.3" fill="#e8e800"/><rect x="903.5" y="565.7" width="2.2" height="2.3" fill="#e8e800"/><rect x="904.5" y="580.7" width="2.2" height="2.7" fill="#dcdc00"/><rect x="913.5" y="565.5" width="2.2" height="2.5" fill="#e8e800"/><rect x="918.5" y="580.8" width="2.2" height="1.7" fill="#dcdc00"/><rect x="923.5" y="580.8" width="2.2" height="2.4" fill="#dcdc00"/><rect x="930.5" y="564.5" width="2.2" height="3.6" fill="#e8e800"/><rect x="930.5" y="580.8" width="2.2" height="1.8" fill="#dcdc00"/><rect x="934.5" y="565.1" width="2.2" height="3.0" fill="#e8e800"/><rect x="936.5" y="564.9" width="2.2" height="3.2" fill="#e8e800"/><rect x="938.5" y="565.4" width="2.2" height="2.7" fill="#e8e800"/><rect x="939.5" y="580.9" width="2.2" height="2.3" fill="#dcdc00"/><rect x="940.5" y="580.9" width="2.2" height="2.6" fill="#dcdc00"/><rect x="941.5" y="580.9" width="2.2" height="3.4" fill="#dcdc00"/><rect x="947.5" y="564.7" width="2.2" height="3.4" fill="#e8e800"/><rect x="961.5" y="581.0" width="2.2" height="3.0" fill="#dcdc00"/><rect x="984.5" y="581.1" width="2.2" height="2.3" fill="#dcdc00"/><rect x="991.5" y="565.0" width="2.2" height="3.3" fill="#e8e800"/><rect x="991.5" y="581.2" width="2.2" height="3.5" fill="#dcdc00"/><rect x="993.5" y="581.2" width="2.2" height="1.9" fill="#dcdc00"/><rect x="995.5" y="564.7" width="2.2" height="3.5" fill="#e8e800"/><rect x="1000.5" y="581.2" width="2.2" height="2.5" fill="#dcdc00"/><rect x="1008.5" y="581.3" width="2.2" height="2.0" fill="#dcdc00"/><rect x="1011.5" y="565.0" width="2.2" height="3.3" fill="#e8e800"/><rect x="1012.5" y="581.3" width="2.2" height="1.8" fill="#dcdc00"/><rect x="536.0" y="563.0" width="1.3" height="2.3" fill="#e8e800"/><rect x="536.0" y="579.9" width="1.3" height="2.4" fill="#dcdc00"/><rect x="537.0" y="560.8" width="1.3" height="4.6" fill="#e8e800"/><rect x="537.0" y="579.9" width="1.3" height="1.9" fill="#dcdc00"/><rect x="538.0" y="562.8" width="1.3" height="2.7" fill="#e8e800"/><rect x="538.0" y="579.8" width="1.3" height="2.6" fill="#dcdc00"/><rect x="539.0" y="562.0" width="1.3" height="3.6" fill="#e8e800"/><rect x="539.0" y="579.8" width="1.3" height="1.9" fill="#dcdc00"/><rect x="540.0" y="559.9" width="1.3" height="5.8" fill="#e8e800"/><rect x="540.0" y="579.7" width="1.3" height="4.1" fill="#dcdc00"/><rect x="541.0" y="563.9" width="1.3" height="1.9" fill="#e8e800"/><rect x="541.0" y="579.6" width="1.3" height="2.4" fill="#dcdc00"/><rect x="542.0" y="563.3" width="1.3" height="2.6" fill="#e8e800"/><rect x="542.0" y="579.6" width="1.3" height="1.9" fill="#dcdc00"/><rect x="543.0" y="564.4" width="1.3" height="1.6" fill="#e8e800"/><rect x="543.0" y="579.5" width="1.3" height="1.0" fill="#dcdc00"/><rect x="544.0" y="564.5" width="1.3" height="1.6" fill="#e8e800"/><rect x="544.0" y="579.4" width="1.3" height="1.1" fill="#dcdc00"/><rect x="545.0" y="562.5" width="1.3" height="3.7" fill="#e8e800"/><rect x="545.0" y="579.4" width="1.3" height="0.9" fill="#dcdc00"/><rect x="546.0" y="562.0" width="1.3" height="4.3" fill="#e8e800"/><rect x="546.0" y="579.3" width="1.3" height="2.8" fill="#dcdc00"/><rect x="547.0" y="564.3" width="1.3" height="2.1" fill="#e8e800"/><rect x="547.0" y="579.3" width="1.3" height="2.4" fill="#dcdc00"/><rect x="548.0" y="562.4" width="1.3" height="4.1" fill="#e8e800"/><rect x="548.0" y="579.2" width="1.3" height="0.9" fill="#dcdc00"/><rect x="549.0" y="563.8" width="1.3" height="2.7" fill="#e8e800"/><rect x="549.0" y="579.2" width="1.3" height="1.6" fill="#dcdc00"/><rect x="550.0" y="564.6" width="1.3" height="1.9" fill="#e8e800"/><rect x="550.0" y="579.2" width="1.3" height="1.1" fill="#dcdc00"/><rect x="551.0" y="565.3" width="1.3" height="1.2" fill="#e8e800"/><rect x="551.0" y="579.2" width="1.3" height="1.8" fill="#dcdc00"/><rect x="552.0" y="565.1" width="1.3" height="1.4" fill="#e8e800"/><rect x="552.0" y="579.2" width="1.3" height="1.3" fill="#dcdc00"/><rect x="553.0" y="563.6" width="1.3" height="2.9" fill="#e8e800"/><rect x="553.0" y="579.2" width="1.3" height="1.0" fill="#dcdc00"/><rect x="554.0" y="565.1" width="1.3" height="1.4" fill="#e8e800"/><rect x="554.0" y="579.2" width="1.3" height="1.9" fill="#dcdc00"/><rect x="555.0" y="564.7" width="1.3" height="1.8" fill="#e8e800"/><rect x="555.0" y="579.2" width="1.3" height="1.2" fill="#dcdc00"/><rect x="556.0" y="565.5" width="1.3" height="1.0" fill="#e8e800"/><rect x="556.0" y="579.2" width="1.3" height="1.2" fill="#dcdc00"/><rect x="557.0" y="565.4" width="1.3" height="1.2" fill="#e8e800"/><rect x="557.0" y="579.2" width="1.3" height="1.0" fill="#dcdc00"/><rect x="558.0" y="565.5" width="1.3" height="1.1" fill="#e8e800"/><rect x="558.0" y="579.3" width="1.3" height="0.4" fill="#dcdc00"/><rect x="559.0" y="565.0" width="1.3" height="1.5" fill="#e8e800"/><rect x="559.0" y="579.3" width="1.3" height="0.9" fill="#dcdc00"/><rect x="560.0" y="565.2" width="1.3" height="1.4" fill="#e8e800"/><rect x="560.0" y="579.3" width="1.3" height="0.4" fill="#dcdc00"/><rect x="561.0" y="566.0" width="1.3" height="0.6" fill="#e8e800"/><rect x="561.0" y="579.3" width="1.3" height="0.3" fill="#dcdc00"/>
<text x="6.2" y="264.0" font-family='"Liberation Sans", sans-serif' font-size="24" fill="#00ff00" stroke="#00ff00" stroke-width="0.6" textLength="9.2" lengthAdjust="spacingAndGlyphs">2</text><path d="M18.4 267.5 L18.4 258.5 Q18.4 256.8 20.2 256.8 L24.5 256.8" fill="none" stroke="#00ff00" stroke-width="2.8"/><path d="M23.6 248.6 L31 256.2 L23.6 263.4 Z" fill="#00ff00"/><path d="M10.9 267.0 L25.6 267.0 L25.6 269.4 L23.8 269.4 L23.8 272.3 L20.8 272.3 L20.8 276.2 L15.8 276.2 L15.8 272.3 L12.9 272.3 L12.9 269.4 L10.9 269.4 Z" fill="#00ff00"/>
<path d="M8.9 570.9 L12.4 568.1 L12.4 581.8" fill="none" stroke="#f0f000" stroke-width="2.8" stroke-linecap="round" stroke-linejoin="round"/><path d="M18.4 586.8 L18.4 577.8 Q18.4 576.1 20.2 576.1 L24.5 576.1" fill="none" stroke="#f0f000" stroke-width="2.8"/><path d="M23.6 567.9 L31 575.5 L23.6 582.7 Z" fill="#f0f000"/><path d="M10.9 586.3 L25.6 586.3 L25.6 588.7 L23.8 588.7 L23.8 591.6 L20.8 591.6 L20.8 595.5 L15.8 595.5 L15.8 591.6 L12.9 591.6 L12.9 588.7 L10.9 588.7 Z" fill="#f0f000"/>
<path d="M57.44 53.40 L63.00 53.40 Q43.70 76.95 63.00 100.50 L57.44 100.50 Q40.33 76.95 57.44 53.40 Z" fill="#fff"/>
<text transform="translate(65.51,90.37) scale(0.8908,1)" x="0" y="0" font-family='"Liberation Sans", sans-serif' font-size="48.74" fill="#fff" style="font-kerning:none" stroke="#fff" stroke-width="0.5">a</text>
<path d="M101.86 53.40 L96.30 53.40 Q115.60 76.95 96.30 100.50 L101.86 100.50 Q118.97 76.95 101.86 53.40 Z" fill="#fff"/>
<text transform="translate(722.14,403.90) scale(1.0688,1)" x="0" y="0" font-family='"Liberation Sans", sans-serif' font-size="30.93" fill="#fff" style="font-kerning:none">200 ns</text>
<rect x="723.1" y="413.1" width="97.1" height="13.2" fill="#fff"/>
<defs>
<clipPath id="pc"><rect x="111.0" y="656.8" width="794.1" height="591.0"/></clipPath>
<radialGradient id="halo" gradientUnits="userSpaceOnUse" cx="533" cy="962" r="360.0">
<stop offset="0.0000" stop-color="#c00084"/>
<stop offset="0.2778" stop-color="#b80082"/>
<stop offset="0.3250" stop-color="#a40080"/>
<stop offset="0.3889" stop-color="#840078"/>
<stop offset="0.4778" stop-color="#700070"/>
<stop offset="0.5111" stop-color="#640068"/>
<stop offset="0.5639" stop-color="#540060"/>
<stop offset="0.6083" stop-color="#4a0058"/>
<stop offset="0.6750" stop-color="#3e004e"/>
<stop offset="0.7139" stop-color="#3a004a"/>
<stop offset="0.8056" stop-color="#340045"/>
<stop offset="0.9194" stop-color="#300042"/>
<stop offset="1.0000" stop-color="#2f0041"/>
</radialGradient>
<radialGradient id="core" gradientUnits="userSpaceOnUse" cx="512" cy="954" fx="535" fy="968" r="152.0">
<stop offset="0.0000" stop-color="#ff1800"/>
<stop offset="0.0592" stop-color="#ff2400"/>
<stop offset="0.1053" stop-color="#ff4000"/>
<stop offset="0.1447" stop-color="#ff6000"/>
<stop offset="0.1842" stop-color="#ff8400"/>
<stop offset="0.2171" stop-color="#ffac00"/>
<stop offset="0.2368" stop-color="#ffde00"/>
<stop offset="0.2566" stop-color="#ffff00"/>
<stop offset="0.2829" stop-color="#f4ff00"/>
<stop offset="0.3026" stop-color="#70ec00"/>
<stop offset="0.3158" stop-color="#00d800"/>
<stop offset="0.3750" stop-color="#00d400"/>
<stop offset="0.4013" stop-color="#00ff80"/>
<stop offset="0.4276" stop-color="#00ecff"/>
<stop offset="0.4671" stop-color="#00a8ff"/>
<stop offset="0.5132" stop-color="#0064ff"/>
<stop offset="0.5592" stop-color="#0010ff"/>
<stop offset="0.5987" stop-color="#3800ff"/>
<stop offset="0.6447" stop-color="#d800ff"/>
<stop offset="0.6908" stop-color="#ff00d0"/>
<stop offset="0.7368" stop-color="#ff00b0"/>
<stop offset="0.8026" stop-color="#f00094"/>
<stop offset="0.8553" stop-color="#d0008a" stop-opacity="0.9"/>
<stop offset="0.9211" stop-color="#b00084" stop-opacity="0.5"/>
<stop offset="1" stop-color="#a00080" stop-opacity="0"/>
</radialGradient>
<linearGradient id="cb" gradientUnits="userSpaceOnUse" x1="0" y1="661" x2="0" y2="1244">
<stop offset="0.0000" stop-color="#ff0000"/>
<stop offset="0.0497" stop-color="#ff0000"/>
<stop offset="0.0669" stop-color="#ff2000"/>
<stop offset="0.1664" stop-color="#ff8000"/>
<stop offset="0.2693" stop-color="#ffc000"/>
<stop offset="0.3379" stop-color="#ffff00"/>
<stop offset="0.3842" stop-color="#b8ee00"/>
<stop offset="0.4134" stop-color="#00d800"/>
<stop offset="0.5334" stop-color="#00c000"/>
<stop offset="0.5643" stop-color="#00ff40"/>
<stop offset="0.5883" stop-color="#00ffa0"/>
<stop offset="0.6141" stop-color="#00ffff"/>
<stop offset="0.6501" stop-color="#00c0ff"/>
<stop offset="0.6913" stop-color="#0080d0"/>
<stop offset="0.7358" stop-color="#0040e0"/>
<stop offset="0.7753" stop-color="#0000ff"/>
<stop offset="0.8130" stop-color="#8000ff"/>
<stop offset="0.8439" stop-color="#ff00ff"/>
<stop offset="0.8731" stop-color="#ff0090"/>
<stop offset="0.9039" stop-color="#c00070"/>
<stop offset="0.9417" stop-color="#800070"/>
<stop offset="0.9846" stop-color="#500050"/>
<stop offset="1.0000" stop-color="#400040"/>
</linearGradient>
<filter id="grain" x="-5%" y="-5%" width="110%" height="110%" color-interpolation-filters="sRGB"><feTurbulence type="fractalNoise" baseFrequency="0.55" numOctaves="2" seed="3" result="n"/><feDisplacementMap in="SourceGraphic" in2="n" scale="9" xChannelSelector="R" yChannelSelector="G"/></filter>
</defs>
<rect x="111.0" y="656.8" width="794.1" height="591.0" fill="url(#halo)"/>
<g clip-path="url(#pc)"><rect x="360" y="790" width="350" height="350" fill="url(#core)" filter="url(#grain)"/></g>
<g clip-path="url(#pc)">
<circle cx="446.5" cy="893" r="6" fill="none" stroke="#3a0070" stroke-width="2.2" opacity="0.75"/>
<circle cx="446.5" cy="893" r="9.5" fill="none" stroke="#ff40c0" stroke-width="1.2" opacity="0.35"/>
<circle cx="550.5" cy="820" r="5.5" fill="none" stroke="#500060" stroke-width="1.8" opacity="0.45"/>
<circle cx="550.5" cy="820" r="9.5" fill="none" stroke="#ff30b0" stroke-width="1.2" opacity="0.18"/>
<circle cx="582" cy="806.5" r="4.5" fill="none" stroke="#500060" stroke-width="1.8" opacity="0.45"/>
<circle cx="582" cy="806.5" r="8.5" fill="none" stroke="#ff30b0" stroke-width="1.2" opacity="0.18"/>
<circle cx="701" cy="1018" r="5.5" fill="none" stroke="#500060" stroke-width="1.8" opacity="0.13"/>
<circle cx="701" cy="1018" r="9.5" fill="none" stroke="#ff30b0" stroke-width="1.2" opacity="0.18"/>
<circle cx="701" cy="949" r="4.5" fill="none" stroke="#500060" stroke-width="1.8" opacity="0.1"/>
<circle cx="701" cy="949" r="8.5" fill="none" stroke="#ff30b0" stroke-width="1.2" opacity="0.18"/>
<ellipse cx="521.85" cy="960.5" rx="360.75" ry="328" fill="none" stroke="#d6bf6e" stroke-width="2"/>
<line x1="111.0" y1="960.6" x2="905.1" y2="960.6" stroke="#e2d6ea" stroke-width="1.7" stroke-dasharray="4.3 2.9"/>
<line x1="530.8" y1="656.8" x2="530.8" y2="1247.8" stroke="#000" stroke-width="1.7" opacity="0.9"/>
<line x1="530.8" y1="656.8" x2="530.8" y2="1247.8" stroke="#d8d0dc" stroke-width="1.6" stroke-dasharray="2.4 4.4"/>
<rect x="517" y="959.6" width="27" height="2.2" fill="#222"/><rect x="529.8" y="946" width="2.2" height="30" fill="#222"/><circle cx="530.8" cy="960.6" r="1.8" fill="#ddd"/>
</g>
<polyline points="112.5,657.3 113.7,658.3 113.6,659.3 112.3,660.3 112.3,661.3 112.3,662.3 113.1,663.3 112.5,664.3 113.3,665.3 112.3,666.3 114.0,667.3 112.5,668.3 113.3,669.3 112.5,670.3 112.3,671.3 113.1,672.3 113.4,673.3 112.5,674.3 112.6,675.3 113.3,676.3 112.3,677.3 112.3,678.3 113.1,679.3 112.3,680.3 112.3,681.3 112.3,682.3 112.4,683.3 112.3,684.3 112.3,685.3 112.9,686.3 113.7,687.3 112.7,688.3 112.3,689.3 113.2,690.3 113.6,691.3 112.6,692.3 113.4,693.3 113.9,694.3 112.8,695.3 112.3,696.3 113.3,697.3 113.2,698.3 114.0,699.3 112.3,700.3 112.4,701.3 112.3,702.3 112.3,703.3 113.3,704.3 113.7,705.3 112.5,706.3 114.5,707.3 114.1,708.3 113.9,709.3 113.7,710.3 114.3,711.3 112.3,712.3 114.0,713.3 114.1,714.3 112.3,715.3 113.9,716.3 113.4,717.3 114.4,718.3 113.3,719.3 113.7,720.3 114.1,721.3 112.9,722.3 114.4,723.3 113.7,724.3 114.4,725.3 113.4,726.3 115.0,727.3 114.6,728.3 113.9,729.3 114.7,730.3 115.3,731.3 115.9,732.3 112.6,733.3 115.1,734.3 114.7,735.3 114.2,736.3 113.3,737.3 115.6,738.3 113.1,739.3 115.0,740.3 115.7,741.3 112.9,742.3 114.2,743.3 113.3,744.3 114.8,745.3 116.2,746.3 116.8,747.3 113.2,748.3 114.5,749.3 115.9,750.3 116.9,751.3 115.8,752.3 114.8,753.3 116.0,754.3 115.8,755.3 115.7,756.3 115.3,757.3 116.6,758.3 116.6,759.3 116.3,760.3 116.3,761.3 115.3,762.3 116.3,763.3 118.2,764.3 116.8,765.3 115.6,766.3 118.7,767.3 118.0,768.3 119.9,769.3 117.7,770.3 117.3,771.3 116.3,772.3 119.5,773.3 120.6,774.3 117.4,775.3 117.7,776.3 119.2,777.3 117.7,778.3 118.5,779.3 118.5,780.3 119.3,781.3 120.4,782.3 119.3,783.3 120.6,784.3 119.3,785.3 120.5,786.3 117.8,787.3 118.9,788.3 121.9,789.3 120.5,790.3 122.3,791.3 122.5,792.3 123.8,793.3 123.5,794.3 124.1,795.3 122.9,796.3 122.4,797.3 122.7,798.3 123.3,799.3 122.7,800.3 123.8,801.3 124.7,802.3 125.5,803.3 125.0,804.3 123.0,805.3 125.9,806.3 126.6,807.3 128.2,808.3 127.8,809.3 126.3,810.3 126.4,811.3 130.8,812.3 129.2,813.3 131.2,814.3 131.9,815.3 127.8,816.3 129.9,817.3 130.3,818.3 130.8,819.3 131.0,820.3 130.7,821.3 130.8,822.3 128.4,823.3 130.7,824.3 130.0,825.3 131.6,826.3 130.8,827.3 132.8,828.3 133.3,829.3 132.7,830.3 132.9,831.3 132.7,832.3 132.0,833.3 132.7,834.3 132.3,835.3 134.0,836.3 133.6,837.3 134.8,838.3 131.7,839.3 135.7,840.3 133.1,841.3 133.3,842.3 134.6,843.3 134.4,844.3 136.3,845.3 135.1,846.3 134.6,847.3 135.4,848.3 139.8,849.3 137.8,850.3 136.0,851.3 138.6,852.3 136.0,853.3 142.8,854.3 136.8,855.3 141.1,856.3 141.6,857.3 138.1,858.3 141.9,859.3 143.7,860.3 143.1,861.3 143.1,862.3 144.9,863.3 143.7,864.3 144.7,865.3 144.6,866.3 147.1,867.3 144.5,868.3 149.2,869.3 147.2,870.3 146.7,871.3 150.9,872.3 154.9,873.3 154.1,874.3 151.4,875.3 155.2,876.3 153.2,877.3 154.9,878.3 156.3,879.3 151.2,880.3 159.1,881.3 157.5,882.3 160.0,883.3 159.5,884.3 161.0,885.3 164.3,886.3 171.4,887.3 175.7,888.3 171.9,889.3 176.9,890.3 174.0,891.3 170.0,892.3 178.3,893.3 180.8,894.3 179.2,895.3 183.2,896.3 185.6,897.3 181.9,898.3 181.0,899.3 187.1,900.3 189.0,901.3 190.4,902.3 197.7,903.3 202.8,904.3 196.1,905.3 202.7,906.3 205.8,907.3 206.9,908.3 210.5,909.3 206.0,910.3 213.2,911.3 221.8,912.3 218.9,913.3 214.7,914.3 223.6,915.3 229.8,916.3 228.0,917.3 225.8,918.3 240.0,919.3 227.5,920.3 239.7,921.3 239.2,922.3 234.7,923.3 251.2,924.3 248.5,925.3 241.7,926.3 254.9,927.3 250.9,928.3 243.9,929.3 254.0,930.3 262.5,931.3 267.0,932.3 265.6,933.3 266.5,934.3 271.0,935.3 268.1,936.3 279.4,937.3 273.9,938.3 276.6,939.3 280.1,940.3 270.3,941.3 274.4,942.3 292.4,943.3 285.4,944.3 282.4,945.3 288.5,946.3 283.7,947.3 290.8,948.3 285.0,949.3 293.6,950.3 280.7,951.3 304.7,952.3 291.6,953.3 284.6,954.3 296.7,955.3 296.9,956.3 302.0,957.3 292.3,958.3 305.6,959.3 321.2,960.3 293.6,961.3 307.7,962.3 303.2,963.3 308.2,964.3 292.4,965.3 298.2,966.3 310.8,967.3 305.9,968.3 318.9,969.3 298.9,970.3 305.4,971.3 321.1,972.3 296.2,973.3 294.4,974.3 300.6,975.3 299.8,976.3 305.3,977.3 297.9,978.3 289.2,979.3 295.0,980.3 308.5,981.3 299.5,982.3 271.4,983.3 285.3,984.3 278.1,985.3 287.5,986.3 280.0,987.3 293.6,988.3 284.6,989.3 282.5,990.3 275.9,991.3 272.6,992.3 273.6,993.3 278.4,994.3 271.5,995.3 263.8,996.3 273.0,997.3 264.1,998.3 260.2,999.3 253.0,1000.3 251.8,1001.3 248.8,1002.3 236.7,1003.3 253.7,1004.3 248.2,1005.3 241.1,1006.3 245.8,1007.3 239.8,1008.3 236.9,1009.3 220.3,1010.3 228.6,1011.3 230.1,1012.3 233.1,1013.3 231.6,1014.3 227.3,1015.3 212.5,1016.3 205.6,1017.3 216.9,1018.3 212.3,1019.3 214.6,1020.3 207.6,1021.3 207.2,1022.3 197.6,1023.3 204.1,1024.3 198.3,1025.3 199.3,1026.3 197.3,1027.3 192.4,1028.3 191.6,1029.3 187.8,1030.3 188.2,1031.3 184.7,1032.3 178.5,1033.3 175.9,1034.3 181.9,1035.3 174.4,1036.3 176.5,1037.3 173.2,1038.3 168.8,1039.3 166.8,1040.3 168.1,1041.3 167.1,1042.3 166.7,1043.3 159.9,1044.3 160.4,1045.3 160.5,1046.3 163.9,1047.3 152.6,1048.3 158.4,1049.3 154.6,1050.3 155.9,1051.3 152.4,1052.3 153.3,1053.3 154.9,1054.3 150.9,1055.3 149.8,1056.3 148.6,1057.3 145.2,1058.3 147.2,1059.3 144.7,1060.3 142.6,1061.3 143.4,1062.3 142.1,1063.3 143.2,1064.3 140.8,1065.3 139.0,1066.3 141.9,1067.3 140.2,1068.3 139.8,1069.3 137.7,1070.3 135.5,1071.3 134.1,1072.3 133.8,1073.3 135.5,1074.3 133.6,1075.3 130.5,1076.3 132.5,1077.3 129.8,1078.3 132.0,1079.3 129.4,1080.3 128.9,1081.3 130.6,1082.3 129.9,1083.3 127.0,1084.3 130.3,1085.3 132.0,1086.3 126.1,1087.3 130.6,1088.3 126.7,1089.3 126.8,1090.3 127.0,1091.3 125.0,1092.3 128.8,1093.3 127.4,1094.3 125.4,1095.3 125.9,1096.3 123.9,1097.3 125.4,1098.3 127.0,1099.3 123.0,1100.3 124.6,1101.3 125.2,1102.3 126.2,1103.3 126.4,1104.3 123.8,1105.3 123.2,1106.3 124.6,1107.3 123.3,1108.3 123.1,1109.3 124.7,1110.3 125.3,1111.3 123.3,1112.3 122.5,1113.3 123.2,1114.3 119.9,1115.3 122.0,1116.3 120.5,1117.3 124.4,1118.3 122.3,1119.3 121.4,1120.3 120.8,1121.3 118.1,1122.3 121.5,1123.3 122.3,1124.3 119.3,1125.3 120.8,1126.3 120.6,1127.3 117.7,1128.3 120.5,1129.3 120.8,1130.3 119.4,1131.3 119.0,1132.3 119.9,1133.3 117.1,1134.3 118.9,1135.3 119.9,1136.3 117.2,1137.3 119.6,1138.3 117.9,1139.3 115.9,1140.3 118.1,1141.3 117.0,1142.3 118.3,1143.3 116.6,1144.3 118.9,1145.3 116.9,1146.3 118.0,1147.3 116.8,1148.3 117.0,1149.3 118.6,1150.3 117.4,1151.3 116.6,1152.3 115.6,1153.3 118.1,1154.3 117.5,1155.3 116.3,1156.3 116.8,1157.3 115.4,1158.3 115.3,1159.3 115.4,1160.3 116.5,1161.3 116.4,1162.3 115.2,1163.3 116.6,1164.3 116.6,1165.3 115.8,1166.3 116.6,1167.3 115.2,1168.3 115.3,1169.3 115.7,1170.3 115.1,1171.3 115.9,1172.3 113.7,1173.3 116.3,1174.3 114.0,1175.3 114.5,1176.3 113.2,1177.3 115.1,1178.3 115.8,1179.3 115.5,1180.3 115.3,1181.3 112.9,1182.3 113.6,1183.3 113.9,1184.3 113.4,1185.3 115.4,1186.3 114.4,1187.3 114.2,1188.3 114.7,1189.3 113.2,1190.3 113.2,1191.3 113.2,1192.3 114.5,1193.3 114.3,1194.3 114.5,1195.3 115.0,1196.3 112.6,1197.3 113.3,1198.3 114.0,1199.3 112.5,1200.3 113.3,1201.3 114.7,1202.3 114.8,1203.3 114.7,1204.3 113.7,1205.3 113.4,1206.3 114.6,1207.3 113.2,1208.3 113.8,1209.3 114.7,1210.3 113.1,1211.3 112.8,1212.3 113.4,1213.3 113.9,1214.3 113.8,1215.3 113.4,1216.3 113.8,1217.3 112.3,1218.3 112.4,1219.3 113.3,1220.3 112.3,1221.3 112.3,1222.3 112.3,1223.3 112.3,1224.3 112.8,1225.3 112.3,1226.3 113.1,1227.3 114.4,1228.3 112.7,1229.3 114.0,1230.3 113.0,1231.3 112.3,1232.3 112.5,1233.3 112.3,1234.3 113.3,1235.3 112.3,1236.3 113.8,1237.3 113.0,1238.3 112.3,1239.3 113.2,1240.3 113.9,1241.3 112.3,1242.3 113.4,1243.3 112.3,1244.3 112.7,1245.3 112.3,1246.3 112.9,1247.3" fill="none" stroke="#f6f2f8" stroke-width="1.6" stroke-linejoin="round"/>
<polyline points="112.8,1242.0 113.8,1241.7 114.8,1243.8 115.8,1244.5 116.8,1243.0 117.8,1244.2 118.8,1243.6 119.8,1243.3 120.8,1244.0 121.8,1244.5 122.8,1242.5 123.8,1244.0 124.8,1243.8 125.8,1242.4 126.8,1244.5 127.8,1244.5 128.8,1242.8 129.8,1244.5 130.8,1243.6 131.8,1243.4 132.8,1244.5 133.8,1243.7 134.8,1243.8 135.8,1244.5 136.8,1244.5 137.8,1244.3 138.8,1242.4 139.8,1242.3 140.8,1244.5 141.8,1242.8 142.8,1243.7 143.8,1242.7 144.8,1243.4 145.8,1242.6 146.8,1244.5 147.8,1242.8 148.8,1243.5 149.8,1243.5 150.8,1244.5 151.8,1242.5 152.8,1243.6 153.8,1243.5 154.8,1244.1 155.8,1244.0 156.8,1243.3 157.8,1243.8 158.8,1243.3 159.8,1244.0 160.8,1243.6 161.8,1243.1 162.8,1243.6 163.8,1243.9 164.8,1244.5 165.8,1243.3 166.8,1243.9 167.8,1244.5 168.8,1242.0 169.8,1242.3 170.8,1242.7 171.8,1243.6 172.8,1244.5 173.8,1244.0 174.8,1244.5 175.8,1243.5 176.8,1241.9 177.8,1241.9 178.8,1244.5 179.8,1243.9 180.8,1242.6 181.8,1244.5 182.8,1242.5 183.8,1244.5 184.8,1244.5 185.8,1243.1 186.8,1242.8 187.8,1244.4 188.8,1242.8 189.8,1244.4 190.8,1242.8 191.8,1244.4 192.8,1243.8 193.8,1243.4 194.8,1243.0 195.8,1243.9 196.8,1242.2 197.8,1243.5 198.8,1243.4 199.8,1244.3 200.8,1242.7 201.8,1244.5 202.8,1243.5 203.8,1242.9 204.8,1244.5 205.8,1244.5 206.8,1243.6 207.8,1243.1 208.8,1243.8 209.8,1243.2 210.8,1243.5 211.8,1244.5 212.8,1244.1 213.8,1243.9 214.8,1244.1 215.8,1243.8 216.8,1244.5 217.8,1244.5 218.8,1243.5 219.8,1243.9 220.8,1244.5 221.8,1244.2 222.8,1243.7 223.8,1244.5 224.8,1243.8 225.8,1243.0 226.8,1244.4 227.8,1243.1 228.8,1243.4 229.8,1244.1 230.8,1243.8 231.8,1243.2 232.8,1243.4 233.8,1243.4 234.8,1244.5 235.8,1243.3 236.8,1243.4 237.8,1244.5 238.8,1243.4 239.8,1244.5 240.8,1244.5 241.8,1243.8 242.8,1242.7 243.8,1244.3 244.8,1244.4 245.8,1244.5 246.8,1244.0 247.8,1244.5 248.8,1244.5 249.8,1243.1 250.8,1244.5 251.8,1244.1 252.8,1243.5 253.8,1243.7 254.8,1244.5 255.8,1244.5 256.8,1242.5 257.8,1244.0 258.8,1243.8 259.8,1243.8 260.8,1243.5 261.8,1242.8 262.8,1244.5 263.8,1243.2 264.8,1243.7 265.8,1243.5 266.8,1243.4 267.8,1244.5 268.8,1244.3 269.8,1243.4 270.8,1243.2 271.8,1243.6 272.8,1244.5 273.8,1244.1 274.8,1244.2 275.8,1243.7 276.8,1243.8 277.8,1244.2 278.8,1242.5 279.8,1244.5 280.8,1243.3 281.8,1243.5 282.8,1244.5 283.8,1244.0 284.8,1243.8 285.8,1243.3 286.8,1242.5 287.8,1243.8 288.8,1244.5 289.8,1242.9 290.8,1244.5 291.8,1242.6 292.8,1242.9 293.8,1243.8 294.8,1243.4 295.8,1243.9 296.8,1242.7 297.8,1242.4 298.8,1241.7 299.8,1242.2 300.8,1242.2 301.8,1241.9 302.8,1243.3 303.8,1242.5 304.8,1241.3 305.8,1244.5 306.8,1242.2 307.8,1241.8 308.8,1243.9 309.8,1243.8 310.8,1241.7 311.8,1241.4 312.8,1241.8 313.8,1243.5 314.8,1242.2 315.8,1241.7 316.8,1242.3 317.8,1243.3 318.8,1241.0 319.8,1241.8 320.8,1240.9 321.8,1244.0 322.8,1243.6 323.8,1242.8 324.8,1241.8 325.8,1242.4 326.8,1239.9 327.8,1241.9 328.8,1240.4 329.8,1240.4 330.8,1240.9 331.8,1241.1 332.8,1241.9 333.8,1242.0 334.8,1241.5 335.8,1240.3 336.8,1241.7 337.8,1241.0 338.8,1242.1 339.8,1240.1 340.8,1238.9 341.8,1240.4 342.8,1242.8 343.8,1241.1 344.8,1240.5 345.8,1241.4 346.8,1241.0 347.8,1240.9 348.8,1239.9 349.8,1240.4 350.8,1240.5 351.8,1239.6 352.8,1239.1 353.8,1240.2 354.8,1240.9 355.8,1240.6 356.8,1240.4 357.8,1240.3 358.8,1241.9 359.8,1239.9 360.8,1240.6 361.8,1241.5 362.8,1239.6 363.8,1239.7 364.8,1240.4 365.8,1241.0 366.8,1239.6 367.8,1239.5 368.8,1239.2 369.8,1237.9 370.8,1240.1 371.8,1238.7 372.8,1237.1 373.8,1238.7 374.8,1236.8 375.8,1237.3 376.8,1238.1 377.8,1236.8 378.8,1238.7 379.8,1235.7 380.8,1237.3 381.8,1237.4 382.8,1238.1 383.8,1237.3 384.8,1236.2 385.8,1235.8 386.8,1235.4 387.8,1236.5 388.8,1234.2 389.8,1235.2 390.8,1234.1 391.8,1234.0 392.8,1233.0 393.8,1235.5 394.8,1231.6 395.8,1232.3 396.8,1231.9 397.8,1231.8 398.8,1231.2 399.8,1230.7 400.8,1231.0 401.8,1227.2 402.8,1228.8 403.8,1226.6 404.8,1228.2 405.8,1225.8 406.8,1225.7 407.8,1226.6 408.8,1228.4 409.8,1226.8 410.8,1226.0 411.8,1227.3 412.8,1223.2 413.8,1221.0 414.8,1223.2 415.8,1223.1 416.8,1225.2 417.8,1226.3 418.8,1220.1 419.8,1225.6 420.8,1224.2 421.8,1222.4 422.8,1221.0 423.8,1223.6 424.8,1219.3 425.8,1217.6 426.8,1218.2 427.8,1214.8 428.8,1217.6 429.8,1215.9 430.8,1216.2 431.8,1215.6 432.8,1212.2 433.8,1216.4 434.8,1211.1 435.8,1214.4 436.8,1208.3 437.8,1211.3 438.8,1207.6 439.8,1208.4 440.8,1205.7 441.8,1201.0 442.8,1202.3 443.8,1204.0 444.8,1204.4 445.8,1198.2 446.8,1195.5 447.8,1197.6 448.8,1198.3 449.8,1196.2 450.8,1194.7 451.8,1198.2 452.8,1197.6 453.8,1196.0 454.8,1190.3 455.8,1192.0 456.8,1190.0 457.8,1185.2 458.8,1190.9 459.8,1187.3 460.8,1184.3 461.8,1189.1 462.8,1185.9 463.8,1185.0 464.8,1185.0 465.8,1182.2 466.8,1174.2 467.8,1176.0 468.8,1179.7 469.8,1172.2 470.8,1173.9 471.8,1174.0 472.8,1176.7 473.8,1175.1 474.8,1172.4 475.8,1167.1 476.8,1170.2 477.8,1167.5 478.8,1163.5 479.8,1168.0 480.8,1163.0 481.8,1156.1 482.8,1163.1 483.8,1155.0 484.8,1157.1 485.8,1146.1 486.8,1151.2 487.8,1145.3 488.8,1143.6 489.8,1137.5 490.8,1155.3 491.8,1143.1 492.8,1143.8 493.8,1146.9 494.8,1139.7 495.8,1141.6 496.8,1131.0 497.8,1137.7 498.8,1133.3 499.8,1136.9 500.8,1134.0 501.8,1124.6 502.8,1120.6 503.8,1123.6 504.8,1131.7 505.8,1128.7 506.8,1127.2 507.8,1112.2 508.8,1109.6 509.8,1117.1 510.8,1117.4 511.8,1114.4 512.8,1118.6 513.8,1114.1 514.8,1106.9 515.8,1107.6 516.8,1112.7 517.8,1111.2 518.8,1109.2 519.8,1122.2 520.8,1105.8 521.8,1107.1 522.8,1098.9 523.8,1101.9 524.8,1106.5 525.8,1105.8 526.8,1100.4 527.8,1103.3 528.8,1100.5 529.8,1087.0 530.8,1084.2 531.8,1112.7 532.8,1103.1 533.8,1097.2 534.8,1086.0 535.8,1089.1 536.8,1106.6 537.8,1083.0 538.8,1095.4 539.8,1103.4 540.8,1098.6 541.8,1102.6 542.8,1097.7 543.8,1114.2 544.8,1094.2 545.8,1093.2 546.8,1104.9 547.8,1113.4 548.8,1105.0 549.8,1113.1 550.8,1104.3 551.8,1101.8 552.8,1119.5 553.8,1122.1 554.8,1123.6 555.8,1113.5 556.8,1111.1 557.8,1112.9 558.8,1120.1 559.8,1126.4 560.8,1127.7 561.8,1118.8 562.8,1129.5 563.8,1130.4 564.8,1132.5 565.8,1133.8 566.8,1134.6 567.8,1140.5 568.8,1139.9 569.8,1142.2 570.8,1139.5 571.8,1146.6 572.8,1146.0 573.8,1138.8 574.8,1152.8 575.8,1151.4 576.8,1158.7 577.8,1155.9 578.8,1158.2 579.8,1161.5 580.8,1162.6 581.8,1162.8 582.8,1159.6 583.8,1175.6 584.8,1164.2 585.8,1170.3 586.8,1175.3 587.8,1175.7 588.8,1177.7 589.8,1179.8 590.8,1182.8 591.8,1180.9 592.8,1188.6 593.8,1179.4 594.8,1184.8 595.8,1184.4 596.8,1185.4 597.8,1189.6 598.8,1194.6 599.8,1189.8 600.8,1191.5 601.8,1197.1 602.8,1198.2 603.8,1203.4 604.8,1202.5 605.8,1202.1 606.8,1202.3 607.8,1205.1 608.8,1205.4 609.8,1203.9 610.8,1208.2 611.8,1209.0 612.8,1210.1 613.8,1210.9 614.8,1216.4 615.8,1215.6 616.8,1217.2 617.8,1215.5 618.8,1215.9 619.8,1218.4 620.8,1220.3 621.8,1220.3 622.8,1221.6 623.8,1224.5 624.8,1224.4 625.8,1223.4 626.8,1225.2 627.8,1225.9 628.8,1228.2 629.8,1227.3 630.8,1229.7 631.8,1231.3 632.8,1230.8 633.8,1230.0 634.8,1230.8 635.8,1232.1 636.8,1233.0 637.8,1233.8 638.8,1233.0 639.8,1232.0 640.8,1235.7 641.8,1234.7 642.8,1235.2 643.8,1235.5 644.8,1234.4 645.8,1235.6 646.8,1236.6 647.8,1237.9 648.8,1237.2 649.8,1235.2 650.8,1237.7 651.8,1238.7 652.8,1240.1 653.8,1239.9 654.8,1241.6 655.8,1240.8 656.8,1240.8 657.8,1240.4 658.8,1238.2 659.8,1240.4 660.8,1240.2 661.8,1239.1 662.8,1240.3 663.8,1240.1 664.8,1239.3 665.8,1239.7 666.8,1239.6 667.8,1240.1 668.8,1239.5 669.8,1240.5 670.8,1238.1 671.8,1239.7 672.8,1238.4 673.8,1239.6 674.8,1240.6 675.8,1240.2 676.8,1240.1 677.8,1240.3 678.8,1241.7 679.8,1239.2 680.8,1241.1 681.8,1238.9 682.8,1239.9 683.8,1240.5 684.8,1239.5 685.8,1240.6 686.8,1241.1 687.8,1239.3 688.8,1240.3 689.8,1240.0 690.8,1238.6 691.8,1240.2 692.8,1239.7 693.8,1241.7 694.8,1239.6 695.8,1242.1 696.8,1240.0 697.8,1242.3 698.8,1241.0 699.8,1240.9 700.8,1241.3 701.8,1241.4 702.8,1241.9 703.8,1242.2 704.8,1240.3 705.8,1239.5 706.8,1238.6 707.8,1240.3 708.8,1241.4 709.8,1241.1 710.8,1240.9 711.8,1240.5 712.8,1240.2 713.8,1240.6 714.8,1241.2 715.8,1239.3 716.8,1241.6 717.8,1239.6 718.8,1240.8 719.8,1240.4 720.8,1240.7 721.8,1240.1 722.8,1240.0 723.8,1240.9 724.8,1240.1 725.8,1243.2 726.8,1240.8 727.8,1240.6 728.8,1240.7 729.8,1240.3 730.8,1239.3 731.8,1241.1 732.8,1241.6 733.8,1240.0 734.8,1241.4 735.8,1240.3 736.8,1241.4 737.8,1241.8 738.8,1241.9 739.8,1241.9 740.8,1240.9 741.8,1242.3 742.8,1241.2 743.8,1241.9 744.8,1242.2 745.8,1241.4 746.8,1240.5 747.8,1242.2 748.8,1240.7 749.8,1240.9 750.8,1240.8 751.8,1242.5 752.8,1241.7 753.8,1239.9 754.8,1242.5 755.8,1243.7 756.8,1243.5 757.8,1241.4 758.8,1242.0 759.8,1242.4 760.8,1242.8 761.8,1242.1 762.8,1241.1 763.8,1242.7 764.8,1242.6 765.8,1241.0 766.8,1241.8 767.8,1242.4 768.8,1242.2 769.8,1242.7 770.8,1243.0 771.8,1242.8 772.8,1242.2 773.8,1241.2 774.8,1242.9 775.8,1243.6 776.8,1244.1 777.8,1242.4 778.8,1242.4 779.8,1243.7 780.8,1243.7 781.8,1242.8 782.8,1243.1 783.8,1241.9 784.8,1243.0 785.8,1241.8 786.8,1242.4 787.8,1242.4 788.8,1242.2 789.8,1240.8 790.8,1241.9 791.8,1242.9 792.8,1242.5 793.8,1242.3 794.8,1243.0 795.8,1243.2 796.8,1243.3 797.8,1241.9 798.8,1242.7 799.8,1242.4 800.8,1241.9 801.8,1241.4 802.8,1242.6 803.8,1241.9 804.8,1244.5 805.8,1242.6 806.8,1242.5 807.8,1242.4 808.8,1244.3 809.8,1241.9 810.8,1242.6 811.8,1242.1 812.8,1242.6 813.8,1242.7 814.8,1243.7 815.8,1241.6 816.8,1242.8 817.8,1244.2 818.8,1242.4 819.8,1242.7 820.8,1242.1 821.8,1241.0 822.8,1242.7 823.8,1243.8 824.8,1242.4 825.8,1241.3 826.8,1243.1 827.8,1242.9 828.8,1243.7 829.8,1243.7 830.8,1242.7 831.8,1243.2 832.8,1241.4 833.8,1243.9 834.8,1243.1 835.8,1243.8 836.8,1243.8 837.8,1242.7 838.8,1242.8 839.8,1242.2 840.8,1241.2 841.8,1242.9 842.8,1243.1 843.8,1242.1 844.8,1243.6 845.8,1243.1 846.8,1243.4 847.8,1242.4 848.8,1241.6 849.8,1243.7 850.8,1243.6 851.8,1243.0 852.8,1242.7 853.8,1242.8 854.8,1243.0 855.8,1242.7 856.8,1241.4 857.8,1243.8 858.8,1241.9 859.8,1242.8 860.8,1242.9 861.8,1243.4 862.8,1241.8 863.8,1244.2 864.8,1243.7 865.8,1243.8 866.8,1244.2 867.8,1242.5 868.8,1241.4 869.8,1243.5 870.8,1244.3 871.8,1244.2 872.8,1242.8 873.8,1243.2 874.8,1243.5 875.8,1241.8 876.8,1242.7 877.8,1242.7 878.8,1244.5 879.8,1242.8 880.8,1244.5 881.8,1243.3 882.8,1241.9 883.8,1244.5 884.8,1242.5 885.8,1243.9 886.8,1244.5 887.8,1242.9 888.8,1242.4 889.8,1244.2 890.8,1243.4 891.8,1242.4 892.8,1242.5 893.8,1243.1 894.8,1244.2 895.8,1243.2 896.8,1244.0 897.8,1244.5 898.8,1244.5 899.8,1244.5 900.8,1244.5 901.8,1242.2 902.8,1244.5 903.8,1243.8 904.8,1243.4" fill="none" stroke="#f6f2f8" stroke-width="1.6" stroke-linejoin="round"/>
<path d="M698 1240 L699 1230 L700 1240 Z" fill="#f6f2f8"/>
<rect x="111.0" y="656.8" width="1.2" height="591.0" fill="#7a5a90"/>
<rect x="111.0" y="1245" width="794.1" height="2.8" fill="#7e6092"/>
<rect x="905.1" y="661" width="11.1" height="583" fill="url(#cb)"/>
<rect x="905.1" y="1244" width="11.1" height="3.8" fill="#3c3c3c"/>
<path d="M139.67 683.00 L144.30 683.00 Q128.22 703.95 144.30 724.90 L139.67 724.90 Q125.41 703.95 139.67 683.00 Z" fill="#fff"/>
<text transform="translate(147.43,716.54) scale(1.0522,1)" x="0" y="0" font-family='"Liberation Sans", sans-serif' font-size="46.71" fill="#fff" style="font-kerning:none">b</text>
<path d="M181.71 683.00 L177.00 683.00 Q193.35 703.95 177.00 724.90 L181.71 724.90 Q196.20 703.95 181.71 683.00 Z" fill="#fff"/>
</svg>
</body></html>
